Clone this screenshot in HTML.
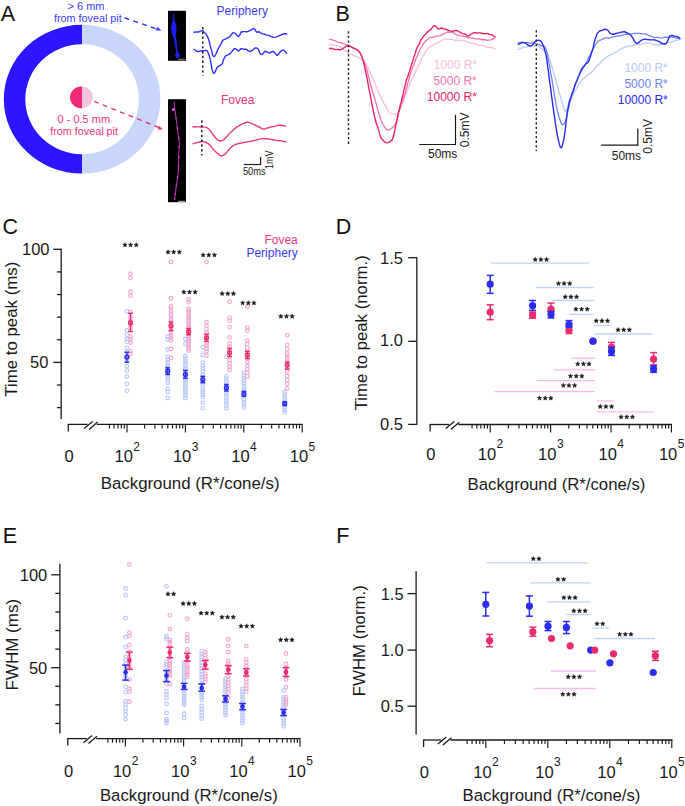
<!DOCTYPE html>
<html><head><meta charset="utf-8"><title>Figure</title>
<style>
html,body{margin:0;padding:0;background:#fff;}
svg{display:block;}
text{font-family:"Liberation Sans", sans-serif;}
</style></head>
<body>
<svg width="685" height="806" viewBox="0 0 685 806">
<rect width="685" height="806" fill="#fff"/>
<text x="0.7" y="20.8" font-size="21.5" fill="#111" text-anchor="start" >A</text>
<path d="M82.1,24.8 A78.3,74.4 0 0 0 82.1,173.6 L82.1,154.2 A56.8,55 0 0 1 82.1,44.2 Z" fill="#2c16ff"/>
<path d="M82.1,24.8 A78.3,74.4 0 0 1 82.1,173.6 L82.1,154.2 A56.8,55 0 0 0 82.1,44.2 Z" fill="#c8d6fc"/>
<clipPath id="fovL"><rect x="60" y="80" width="22.1" height="40"/></clipPath>
<ellipse cx="81.45" cy="97.3" rx="11.45" ry="10.85" fill="#f2c4e0"/>
<ellipse cx="81.45" cy="97.3" rx="11.45" ry="10.85" fill="#ee2a78" clip-path="url(#fovL)"/>
<text x="86" y="9.8" font-size="11" fill="#3c3cf0" text-anchor="middle" >&gt; 6 mm</text>
<text x="87.8" y="22.4" font-size="10.8" fill="#3c3cf0" text-anchor="middle" >from foveal pit</text>
<text x="83.8" y="122.8" font-size="11" fill="#ea3478" text-anchor="middle" >0 - 0.5 mm</text>
<text x="84.1" y="135" font-size="10.8" fill="#ea3478" text-anchor="middle" >from foveal pit</text>
<line x1="124.5" y1="17.8" x2="158.5" y2="29.6" stroke="#3c3cf0" stroke-width="1.5" stroke-dasharray="5,4.3"/>
<polygon points="161.5,30.6 155.6,30.4 157.2,27.0" fill="#3c3cf0"/>
<line x1="94.1" y1="101.3" x2="160.5" y2="128.2" stroke="#ea3478" stroke-width="1.4" stroke-dasharray="5,4.3"/>
<polygon points="163.2,129.6 157.6,129.6 159.2,126.0" fill="#ea3478"/>
<rect x="168" y="10.8" width="18" height="50" fill="#000"/>
<path d="M173.0,13.4 L173.9,13.4 L174.6,21 Q176.6,24 176.5,28.5 Q176.3,33 175.6,35.5 L176.6,41 Q177.2,44 176.9,47 L177.6,51.5 Q179.9,53.5 179.8,56 Q179,58.4 177,58.3 Q175.2,57.8 175.3,55.5 Q175.5,53.5 176.2,51.5 L175.3,47 Q174.4,44 174.2,41 L173.3,36.5 Q171,33.5 171,29 Q171.2,24.5 172.7,21.5 Z" fill="#1e1ef8"/>
<rect x="178.2" y="58.8" width="7" height="1.3" fill="#777"/>
<circle cx="170.3" cy="57.3" r="0.8" fill="#1a1a9a"/>
<rect x="168" y="99.2" width="18" height="103" fill="#000"/>
<path d="M174.4,102 C174.38,102.67 174.17,104.5 174.3,106 C174.43,107.5 174.98,109.45 175.2,111 C175.42,112.55 175.37,113.47 175.6,115.3 C175.83,117.13 176.27,119.38 176.6,122 C176.93,124.62 177.15,127.67 177.6,131 C178.05,134.33 179.08,138.42 179.3,142 C179.52,145.58 179.02,148.78 178.9,152.5 C178.78,156.22 178.73,160.83 178.6,164.3 C178.47,167.77 178.35,170.57 178.1,173.3 C177.85,176.03 177.52,177.73 177.1,180.7 C176.68,183.67 176.02,188 175.6,191.1 C175.18,194.2 174.77,197.93 174.6,199.3" fill="none" stroke="#b52cb5" stroke-width="1.1" stroke-linejoin="round" stroke-linecap="round" />
<circle cx="176.1" cy="118" r="0.75" fill="#f04cf0"/>
<circle cx="177.3" cy="128" r="0.75" fill="#f04cf0"/>
<circle cx="178.8" cy="138" r="0.75" fill="#f04cf0"/>
<circle cx="179.1" cy="147" r="0.75" fill="#f04cf0"/>
<circle cx="178.8" cy="157" r="0.75" fill="#f04cf0"/>
<circle cx="178.5" cy="166" r="0.75" fill="#f04cf0"/>
<circle cx="177.6" cy="177" r="0.75" fill="#f04cf0"/>
<circle cx="176.4" cy="185" r="0.75" fill="#f04cf0"/>
<circle cx="175.2" cy="194" r="0.75" fill="#f04cf0"/>
<circle cx="173.3" cy="109.4" r="1.5" fill="#ee44ee"/>
<circle cx="174.6" cy="199" r="0.9" fill="#dd33dd"/>
<rect x="178.2" y="200.8" width="7" height="1.1" fill="#aaa"/>
<text x="242.3" y="15" font-size="12" fill="#3c3cf0" text-anchor="middle" >Periphery</text>
<text x="237.7" y="103.8" font-size="12" fill="#ea3478" text-anchor="middle" >Fovea</text>
<polyline points="194.1,32.3 195.4,32.07 197.23,32.02 198.9,31.99 200.58,31.16 202.3,30.65 203.26,31.29 204.34,32.55 205.47,33.43 206.55,34.76 207.5,36.71 208.01,37.87 208.47,39.08 208.89,40.4 209.29,41.65 209.67,43.02 210.04,44.84 210.41,46.56 210.8,47.8 211.23,49.38 211.64,50.87 212.03,52.35 212.43,54.23 212.84,55.6 213.3,56.07 213.8,56.45 214.36,56.62 214.96,55.9 215.59,54.74 216.24,53.39 216.92,51.78 217.61,50.08 218.3,48.53 219,47.27 219.71,46.07 220.44,45.03 221.19,43.59 221.94,41.7 222.71,40.36 223.5,39.89 224.67,39.46 225.91,38.82 227.16,38.18 228.34,37.61 229.4,36.97 230.54,35.74 231.56,34.34 232.44,33.22 233.2,32.6 235,33.18 236.07,34.32 237.34,35.78 238.5,36.53 239.43,35.72 240.26,33.78 241.1,32.24 242.34,31.73 243.8,31.66 245.08,31.65 246.53,31.73 248.1,31.49 249.4,30.82 250.8,30.15 252.18,29.25 253.4,28.44 254.75,29.17 255.9,31.16 256.9,32.21 259.1,31.79 260.46,32.89 262.2,33.9 263.39,33.85 264.77,34.26 266.17,34.97 267.4,35.15 269.26,35.56 270.9,36.29 272.54,37.06 274.4,37.42 275.56,37.17 276.83,36.8 278.21,36.12 279.7,35.35 281.1,34.96 282.71,34.24 284.32,33.79 285.72,33.78 286.7,34" fill="none" stroke="#3030f8" stroke-width="1.4" stroke-linejoin="round" stroke-linecap="round" />
<polyline points="194.1,49.4 195.18,50.06 196.71,51.24 198.2,51.53 199.41,51.33 200.57,51.05 201.9,50.7 203.15,50.8 204.54,50.63 205.92,50.29 207.1,50.82 207.74,51.79 208.29,52.98 208.79,54.26 209.24,55.67 209.67,57.41 210.1,59.15 210.38,60.06 210.65,61.28 210.9,62.74 211.15,63.97 211.39,65.61 211.62,67.49 211.85,68.73 212.07,69.48 212.3,70.14 213.18,73 214.2,73.42 214.75,72.48 215.36,71.39 216.03,69.75 216.74,67.88 217.5,66.8 218.58,66.1 219.77,65.52 220.95,64.91 222,64.13 222.56,62.96 223.03,61.06 223.46,59.64 223.89,58.94 224.39,57.89 225,56.46 226.16,55.47 227.51,55.05 228.9,54.45 230.2,53.61 231.14,52.6 232.04,51.44 232.91,50.23 233.76,49.01 234.6,48.52 236,49.01 237.34,50.05 238.5,51.06 239.49,50.26 240.7,48.71 241.94,48.69 243.49,49.14 245.08,49.21 246.4,49.37 248.12,50.65 249.5,51.47 251.03,51.05 252.5,50.29 253.41,49.63 254.28,48.66 255.1,47.85 257.3,48.14 258.02,48.96 258.83,50.62 259.64,52.75 260.4,54.09 261.76,54.48 263,53.76 263.99,52.35 265.2,51.22 266.55,51.61 268.15,52.7 269.6,53.1 271.26,51.92 272.7,51.3 274.06,52.14 275.3,53.2 276.32,54.8 277.5,55.33 278.37,54.21 279.39,53.02 280.44,51.78 281.4,50.56 283.06,50.18 284.5,50.92 285.79,52.07 286.7,53.3" fill="none" stroke="#3030f8" stroke-width="1.4" stroke-linejoin="round" stroke-linecap="round" />
<polyline points="193.1,127 194.07,126.8 195.43,126.65 197.03,126.81 198.73,126.87 200.37,126.76 201.8,126.74 203.3,126.99 204.71,127.18 206.04,127.36 207.3,127.95 208.5,128.79 209.43,129.6 210.29,130.58 211.1,131.71 211.89,132.95 212.68,134.12 213.5,135.22 214.52,136.53 215.54,137.8 216.56,138.9 217.58,139.77 218.6,140.5 220.21,141 221.81,140.78 223.6,139.88 224.47,139.16 225.39,138.08 226.35,136.94 227.34,135.9 228.34,134.74 229.33,133.67 230.3,132.83 231.38,131.78 232.41,130.8 233.44,129.93 234.51,128.9 235.69,127.81 237,126.95 238.12,126.39 239.37,125.69 240.69,124.93 242.05,124.1 243.41,123.39 244.73,122.99 245.98,122.61 247.1,122.29 248.68,122.4 250.1,122.88 251.4,123.44 252.62,123.92 253.8,124.31 255.21,125.05 256.51,125.78 257.73,126.25 258.9,126.8 260.31,127.71 261.61,128.55 263.1,128.97 264.34,128.98 265.63,128.69 267.11,128.06 268.9,127.49 269.98,127.25 271.2,126.92 272.52,126.68 273.89,126.58 275.27,126.19 276.61,125.64 277.87,125.36 279,125.2 280.66,125.14 282.25,125.36 283.67,125.72 284.84,125.97 285.7,126.1" fill="none" stroke="#e83a78" stroke-width="1.4" stroke-linejoin="round" stroke-linecap="round" />
<polyline points="193.1,143.8 194.07,143.34 195.43,142.95 197.03,142.61 198.73,142.23 200.37,141.75 201.8,141.48 203.28,141.57 204.66,141.93 205.97,142.49 207.24,143.11 208.5,143.86 209.52,144.77 210.5,145.83 211.45,146.93 212.4,148.14 213.38,149.42 214.4,150.56 215.5,151.59 216.67,152.69 217.86,153.67 219.02,154.54 220.12,155.36 221.1,155.8 222.66,155.69 223.93,154.9 225.3,153.83 226.22,153.05 227.16,151.87 228.14,150.49 229.18,149.29 230.3,148.13 231.28,147.14 232.28,146.27 233.33,145.56 234.45,145.03 235.67,144.52 237,144.02 238.28,143.63 239.69,143.28 241.18,143.02 242.71,142.69 244.24,142.4 245.72,142.2 247.1,141.88 248.61,141.66 250.06,141.5 251.46,141.09 252.82,140.7 254.17,140.56 255.5,140.41 256.79,139.92 258.03,139.47 259.25,139.19 260.48,138.83 261.75,138.64 263.1,138.58 264.29,138.62 265.49,138.71 266.71,138.8 267.98,138.89 269.32,139.04 270.75,139.37 272.3,139.69 273.53,139.79 274.93,139.94 276.43,140.32 278,140.59 279.58,140.62 281.1,140.84 282.53,141.25 283.81,141.48 284.88,141.48 285.7,141.7" fill="none" stroke="#e83a78" stroke-width="1.4" stroke-linejoin="round" stroke-linecap="round" />
<line x1="202.8" y1="27" x2="202.8" y2="75.5" stroke="#222" stroke-width="1.5" stroke-dasharray="2.4,2.4"/>
<line x1="201.8" y1="120.3" x2="201.8" y2="155.5" stroke="#222" stroke-width="1.5" stroke-dasharray="2.4,2.4"/>
<line x1="243.8" y1="164.5" x2="260.8" y2="164.5" stroke="#222" stroke-width="1.2" />
<line x1="260.6" y1="157" x2="260.6" y2="165" stroke="#222" stroke-width="1.2" />
<text x="242.9" y="174.7" font-size="10.8" fill="#222" text-anchor="start" textLength="22.8" lengthAdjust="spacingAndGlyphs">50ms</text>
<text x="0" y="0" font-size="10.4" fill="#222" text-anchor="start" transform="translate(272.6,169) rotate(-90)" textLength="18.6" lengthAdjust="spacingAndGlyphs">1mV</text>
<text x="335.6" y="20.7" font-size="21.5" fill="#111" text-anchor="start" >B</text>
<polyline points="329.5,44.3 330.39,44.58 331.63,44.93 333.1,44.98 334.64,45.16 336.12,45.52 337.4,45.91 338.93,46.42 340.27,47.02 341.57,48.16 343,49.34 344.07,49.89 345.2,50.46 346.36,51.15 347.53,52.17 348.69,53.17 349.8,53.75 351.08,54.27 352.32,54.85 353.55,55.62 354.77,56.15 356,56.22 357.26,56.71 358.55,57.82 359.82,58.63 361.05,59.02 362.2,59.75 363.08,60.54 363.89,61.14 364.66,61.92 365.42,63.13 366.19,64.51 367,65.78 367.54,66.76 368.06,68.2 368.58,69.38 369.1,70.23 369.63,71.35 370.2,72.73 370.81,74.24 371.47,75.57 372.2,76.83 372.65,77.6 373.12,78.7 373.62,80.11 374.14,81.35 374.67,82.48 375.22,83.84 375.79,85.4 376.36,86.84 376.93,88.21 377.51,89.78 378.08,91.09 378.65,92.23 379.21,93.59 379.75,95.04 380.29,96.23 380.8,97.07 381.47,98.38 382.14,99.96 382.81,101.32 383.47,102.45 384.13,103.88 384.78,105.2 385.41,105.96 386.03,106.66 386.63,107.79 387.21,109.1 387.77,110.24 388.3,111.18 389.7,112.76 390.88,113.35 392.02,113.68 393.3,113.86 394.46,113.98 395.67,114.16 396.93,113.9 398.22,112.66 399.5,110.71 400,109.85 400.51,108.67 401.03,107.51 401.56,106.28 402.09,104.55 402.62,103.19 403.14,102.12 403.67,100.55 404.18,99.02 404.68,97.84 405.17,96.37 405.65,94.71 406.1,93.55 406.65,92.33 407.17,90.92 407.65,89.54 408.12,88.6 408.57,87.56 409.02,86.08 409.48,84.58 409.96,83.14 410.46,82 411,80.89 411.56,79.65 412.12,78.84 412.68,77.65 413.26,76.16 413.86,75.09 414.48,73.91 415.12,72.73 415.81,71.36 416.53,69.72 417.3,68.32 417.81,67.49 418.35,66.28 418.92,64.94 419.5,63.97 420.11,62.95 420.72,61.45 421.35,59.75 421.99,58.2 422.63,56.99 423.26,55.91 423.9,54.91 424.53,53.81 425.15,52.45 425.75,51.26 426.34,50.55 426.9,49.73 428.11,48.17 429.23,47.39 430.31,46.5 431.39,45.72 432.5,45.34 433.69,44.58 435,43.91 436.13,43.63 437.34,43 438.62,42.28 439.94,41.58 441.27,40.76 442.59,39.93 443.87,39.2 445.08,38.9 446.2,39.1 447.66,39.13 448.92,39.12 450.09,39.28 451.29,39.36 452.62,39.53 454.2,40.06 455.44,40.32 456.8,40.18 458.26,40.26 459.78,40.6 461.32,40.91 462.86,40.95 464.36,41 465.78,41.32 467.1,41.8 468.64,42.26 470.08,42.67 471.44,43.11 472.75,43.29 474.05,43.56 475.35,43.95 476.7,44.54 478.09,45.36 479.5,45.62 480.91,45.37 482.31,45.43 483.71,45.94 485.07,46.53 486.4,46.95 488,47.24 489.67,47.36 491.31,47.51 492.81,47.9 494.08,48.35 495,48.9" fill="none" stroke="#f6bedd" stroke-width="1.3" stroke-linejoin="round" stroke-linecap="round" />
<polyline points="329.5,39.4 330.61,39.35 332.23,39.83 334,40.44 335.31,40.73 336.69,41.49 338.2,42.36 339.9,42.77 340.99,42.75 342.15,43.02 343.37,43.5 344.64,44.09 345.95,44.72 347.27,44.98 348.6,45.36 349.82,46.08 351.14,46.7 352.51,47.39 353.88,47.99 355.2,48.52 356.45,49.57 357.56,50.49 358.5,51.07 359.6,52.11 360.34,53.03 360.87,54.03 361.37,55.24 362,56.64 362.45,57.83 362.89,58.95 363.31,59.81 363.76,60.98 364.23,62.49 364.75,63.7 365.33,65.06 366,67.34 366.28,68.17 366.57,68.78 366.88,69.83 367.2,70.93 367.53,72.14 367.87,73.86 368.21,75.41 368.57,76.64 368.93,78.14 369.3,79.39 369.67,80.58 370.05,82.26 370.43,83.91 370.81,85.42 371.19,86.82 371.56,88.02 371.94,89.3 372.31,90.94 372.68,92.54 373.04,93.67 373.4,94.7 373.79,96.06 374.19,97.23 374.6,98.22 375.01,99.48 375.43,100.98 375.85,102.52 376.26,104.12 376.68,105.89 377.09,107.54 377.5,108.84 377.91,110.13 378.31,111.46 378.7,112.63 379.08,113.98 379.45,115.33 379.81,116.21 380.16,117.25 380.49,118.66 380.8,119.58 381.58,121.37 382.26,123 382.87,124.5 383.43,125.54 383.96,126.06 384.48,126.6 385,127.68 386.15,129.39 387.2,129.96 388.3,130.1 389.5,129.8 390.75,128.98 392,128.08 392.91,127.53 393.81,126.75 394.73,125.5 395.7,123.57 396.04,122.83 396.38,121.83 396.73,120.35 397.08,118.97 397.44,117.84 397.8,116.6 398.16,115.04 398.53,113.25 398.9,111.77 399.26,110.31 399.63,109.02 400,108.07 400.44,106.42 400.89,104.88 401.34,103.79 401.79,102.7 402.24,101.67 402.69,100.39 403.14,98.89 403.6,97.78 404.05,96.81 404.5,95.53 404.84,94.49 405.19,93.43 405.53,92.2 405.86,90.6 406.2,89.03 406.54,87.94 406.88,86.99 407.23,85.63 407.57,83.91 407.92,82.51 408.27,81.7 408.63,80.74 409,79.06 409.39,77.13 409.78,75.63 410.16,74.44 410.55,73.2 410.94,71.86 411.33,70.79 411.74,70.11 412.16,68.98 412.61,67.54 413.08,66.36 413.57,65.06 414.1,63.8 414.59,62.81 415.1,61.22 415.65,59.28 416.22,57.89 416.81,56.99 417.41,55.65 418.02,53.79 418.63,52.47 419.24,51.38 419.85,49.84 420.44,48.53 421.02,47.59 421.57,46.9 422.1,45.98 423.07,44.09 423.95,42.89 424.78,42.05 425.61,41.08 426.48,40.25 427.43,39.49 428.5,38.53 429.7,37.69 430.99,37.38 432.35,37.33 433.76,37 435.22,36.45 436.71,36.22 438.2,36.19 439.4,35.94 440.65,35.34 441.94,34.6 443.25,33.84 444.56,33.27 445.85,32.78 447.1,32.19 448.29,32.06 449.4,32.26 450.88,32.11 452.18,31.96 453.39,32.56 454.61,33.6 455.91,34.37 457.4,35.01 458.52,35.26 459.72,35.46 460.99,35.96 462.29,36.24 463.61,36.26 464.94,36.38 466.24,36.65 467.5,37.34 468.7,37.87 470.15,37.91 471.52,38.04 472.84,38.09 474.16,38.32 475.48,38.8 476.85,38.8 478.3,38.7 479.67,39.06 481.14,39.65 482.67,39.74 484.21,39.5 485.72,39.86 487.15,40.31 488.46,40.16 489.6,40.01 491.49,39.7 493.01,39.08 494.17,38.36 495,37.5" fill="none" stroke="#f272b0" stroke-width="1.3" stroke-linejoin="round" stroke-linecap="round" />
<polyline points="329.5,48.5 330.61,48.38 332.23,48.56 334,49.12 335.42,49.6 336.98,49.41 338.52,49.5 339.9,49.87 341.38,49.49 342.66,48.75 344,47.79 345.5,46.74 347.06,45.99 348.6,45.82 350.04,46.17 351.46,46.89 353,47.97 354.07,48.46 355.24,48.79 356.43,49.41 357.54,50 358.5,50.78 359.42,52.17 360.14,53.4 360.79,54.47 361.5,55.89 361.88,56.9 362.24,58.13 362.61,59.15 362.98,60.02 363.36,61.4 363.77,63.02 364.21,64.74 364.7,67.16 364.92,68.38 365.15,69.34 365.39,70.5 365.64,71.56 365.89,72.48 366.15,73.99 366.41,75.64 366.68,76.73 366.96,77.73 367.23,78.92 367.51,80.27 367.79,82.05 368.07,84.04 368.35,85.69 368.62,87.2 368.9,88.6 369.17,89.84 369.44,91.13 369.7,92.19 369.96,93.46 370.21,95.18 370.47,96.73 370.72,97.89 370.96,98.96 371.21,100.2 371.46,101.61 371.7,103.29 371.95,104.55 372.2,105.57 372.45,106.86 372.7,107.75 372.96,108.93 373.22,110.55 373.48,111.82 373.75,113.15 374.03,114.32 374.31,115.37 374.6,116.71 374.96,118.08 375.33,119.39 375.72,120.99 376.13,122.73 376.54,124.12 376.96,125.03 377.38,126.12 377.81,127.6 378.23,128.94 378.64,129.98 379.04,131.38 379.43,133.07 379.8,134.49 380.16,135.7 380.49,136.7 380.8,137.2 381.82,138.94 382.6,139.81 383.28,140.55 384,141.39 385.51,142.61 387,142.89 388.48,142.64 390,141.66 390.77,140.9 391.53,140.46 392.36,139.69 393.3,137.06 393.55,135.67 393.81,134.64 394.08,133.65 394.37,132.03 394.66,130.66 394.96,129.7 395.26,128.29 395.56,126.43 395.87,124.74 396.18,123.57 396.49,122.51 396.79,121.23 397.09,120.02 397.38,118.76 397.66,117.08 397.94,115.12 398.2,113.59 398.55,112.16 398.89,110.97 399.22,109.57 399.54,108.18 399.85,107.03 400.16,105.71 400.46,104.47 400.76,103.55 401.06,102.64 401.37,101.24 401.68,99.56 402,98.15 402.3,97.24 402.6,96.34 402.89,95.3 403.19,94.19 403.48,92.65 403.78,90.74 404.08,89.36 404.39,88.58 404.7,87.46 405.01,86.07 405.33,84.83 405.66,83.34 406,81.68 406.37,80.07 406.75,78.88 407.13,78.24 407.51,77.52 407.9,76.22 408.3,74.69 408.71,73.55 409.12,72.58 409.55,71.22 409.99,69.57 410.44,67.99 410.9,66.43 411.28,64.98 411.68,63.81 412.08,63.1 412.5,62.07 412.92,60.38 413.35,58.64 413.79,57.19 414.23,56.02 414.67,54.85 415.11,53.58 415.55,52.2 416,50.52 416.44,49.19 416.87,48.26 417.3,47.39 418.01,46.1 418.72,44.82 419.43,43.38 420.14,41.59 420.86,39.97 421.57,39.06 422.28,38.19 422.99,37.01 423.7,35.99 424.63,35.18 425.58,34.11 426.54,32.76 427.49,31.88 428.41,31.1 429.29,30.49 430.1,30.17 431.38,28.91 432.53,27.19 433.58,26.01 434.6,25.7 435.82,26.13 436.94,27.66 438.2,28.96 439.65,28.56 441.24,28.03 443,28.5 444.15,28.95 445.37,29.13 446.65,29.68 447.99,30.29 449.4,30.66 450.66,31.18 452,31.47 453.39,30.96 454.79,30.57 456.13,30.51 457.4,30.7 458.82,31.49 460.19,32.41 461.49,33.06 462.73,33.58 463.9,33.82 465.26,34.02 466.51,35 467.65,35.96 468.7,35.82 469.71,35.19 470.54,34.34 471.9,33.5 472.94,33.17 474.15,32.69 475.49,32.76 476.93,32.98 478.41,32.85 479.9,32.86 481.23,33.02 482.67,33.46 484.16,33.78 485.65,33.66 487.09,33.46 488.43,33.77 489.6,34.39 491.38,34.71 492.91,35.33 494.13,36.45 495,36.5" fill="none" stroke="#ee2266" stroke-width="1.4" stroke-linejoin="round" stroke-linecap="round" />
<line x1="348.5" y1="31.2" x2="348.5" y2="144.7" stroke="#222" stroke-width="1.4" stroke-dasharray="2.3,2.3"/>
<text x="477" y="69" font-size="12" fill="#f6bedd" text-anchor="end" >1000 R*</text>
<text x="476.8" y="84.7" font-size="12" fill="#f272b0" text-anchor="end" >5000 R*</text>
<text x="476.9" y="100.8" font-size="12" fill="#ee2266" text-anchor="end" >10000 R*</text>
<line x1="419.2" y1="144.5" x2="456" y2="144.5" stroke="#1a1a1a" stroke-width="1.2" />
<line x1="455.5" y1="114.8" x2="455.5" y2="145" stroke="#1a1a1a" stroke-width="1.2" />
<text x="442.7" y="158" font-size="12" fill="#1a1a1a" text-anchor="middle" >50ms</text>
<text x="0" y="0" font-size="12" fill="#1a1a1a" text-anchor="middle" transform="translate(468.5,129.9) rotate(-90)">0.5mV</text>
<polyline points="518.2,49.4 519.24,49.24 520.73,48.68 522.4,47.72 524,47.09 525.44,47.14 526.86,47.2 528.35,46.6 530,45.98 531.27,45.69 532.66,45.46 534.12,45.55 535.56,45.53 536.91,45.05 538.1,45.26 539.28,46.45 540.27,47.61 541.16,48.32 542.05,48.86 543,49.96 543.85,51.02 544.7,51.55 545.56,51.99 546.44,52.48 547.35,53.45 548.3,55.58 548.67,56.92 549.05,57.99 549.43,58.84 549.82,59.83 550.22,61 550.62,62.25 551.02,63.71 551.43,65.09 551.84,66.24 552.25,67.85 552.66,69.67 553.07,70.9 553.48,72.07 553.89,73.8 554.3,75.15 554.7,75.98 555.06,77 555.43,78.21 555.81,79.77 556.2,81.6 556.59,83.09 556.98,84.34 557.37,85.3 557.76,86.68 558.15,88.71 558.53,90.46 558.9,91.82 559.26,92.92 559.61,94.04 559.95,95.12 560.26,96.01 560.56,97.14 560.84,98.12 561.1,98.93 561.74,101.3 562.23,102.98 562.61,104.19 562.92,105.1 563.2,105.86 563.5,106.85 564.01,108.97 564.42,110.65 564.9,111.39 565.91,110.63 567,108.83 567.94,107.56 569.1,105.5 569.49,104.2 569.92,102.82 570.37,101.88 570.86,100.69 571.36,99.16 571.89,97.67 572.44,96.38 573,95.27 573.58,93.87 574.19,92.43 574.83,91.34 575.48,90.41 576.15,89.21 576.83,87.65 577.51,86.31 578.2,85.1 578.99,83.69 579.78,82.81 580.58,82.21 581.4,81.02 582.24,79.76 583.1,78.98 584,78.24 585.11,77.27 586.28,76.02 587.49,74.89 588.7,74.35 589.88,73.66 591,72.65 592.05,71.73 593.04,70.58 594.01,69.14 594.98,67.94 595.97,66.95 597,65.87 597.89,65.02 598.77,64.44 599.64,63.74 600.56,62.54 601.53,61.21 602.61,60.23 603.8,59.53 604.72,58.9 605.72,57.87 606.77,56.98 607.86,56.37 608.99,55.57 610.14,54.79 611.29,54.5 612.45,54.13 613.59,53.35 614.7,52.74 615.92,52.18 617.14,51.55 618.36,50.74 619.59,49.82 620.81,48.96 622.04,48.31 623.26,47.94 624.48,47.38 625.7,46.99 627.07,46.72 628.43,46.05 629.79,45.75 631.15,45.95 632.51,45.66 633.87,44.99 635.23,44.7 636.6,44.6 637.98,44.52 639.39,44.49 640.8,44.02 642.21,43.57 643.61,43.46 644.98,43.35 646.32,43.26 647.6,43.34 649,43.46 650.34,43.43 651.63,43.79 652.9,44.65 654.16,44.9 655.42,44.71 656.7,44.99 657.96,45.42 659.15,45.2 660.34,44.29 661.55,43.76 662.84,43.73 664.24,43.68 665.8,43.61 666.95,43.27 668.25,42.56 669.67,42.14 671.15,42.05 672.67,41.7 674.16,40.96 675.6,40.35 676.94,40.05 678.13,39.82 679.13,39.65 679.9,39.6" fill="none" stroke="#bccaf8" stroke-width="1.3" stroke-linejoin="round" stroke-linecap="round" />
<polyline points="518.2,43 519.12,42.82 520.42,42.38 521.94,42.26 523.52,42.55 525,42.79 526.4,42.61 527.83,42.63 529.26,43.06 530.65,43.17 532,42.97 533.64,42.95 535.24,43.45 536.75,44.02 538.1,44.18 539.57,44.75 540.79,45.44 542,46.04 543.23,46.12 544.44,46.22 545.8,48.65 546.03,49.06 546.26,49.37 546.49,50.12 546.74,51.33 546.98,52.43 547.23,53.72 547.49,55.18 547.75,56.46 548.01,58.06 548.27,59.45 548.53,60.57 548.8,62.11 549.06,63.4 549.33,64.52 549.59,65.85 549.86,67.39 550.12,69.13 550.38,70.88 550.64,72.65 550.9,73.93 551.12,74.69 551.35,75.94 551.58,77.31 551.81,78.53 552.04,79.91 552.27,81.54 552.5,83.19 552.74,84.43 552.97,85.61 553.2,87.16 553.43,88.89 553.67,90.39 553.89,91.8 554.12,93.26 554.34,94.63 554.57,96.14 554.78,97.42 555,98.57 555.21,99.95 555.41,101.14 555.61,102.26 555.81,103.45 556,104.42 556.42,106.21 556.81,107.97 557.19,110.07 557.54,111.73 557.89,112.81 558.22,113.79 558.54,114.94 558.86,116.27 559.18,117.18 559.5,117.98 560.12,120.29 560.72,122.13 561.29,123.37 561.85,124.49 562.4,124.86 563.72,124.21 565,121.98 565.35,121.14 565.69,120.21 566.03,118.89 566.36,117.33 566.72,116.2 567.09,114.94 567.5,113.14 567.77,112.05 568.03,110.99 568.29,109.58 568.55,108.2 568.83,107.06 569.12,105.67 569.43,103.8 569.77,102.27 570.14,101.18 570.55,99.64 571,98.02 571.34,97.26 571.7,96.18 572.09,94.85 572.49,93.75 572.91,92.47 573.35,90.84 573.79,89 574.25,87.52 574.71,86.63 575.18,85.47 575.66,83.93 576.13,82.63 576.61,81.38 577.08,80.14 577.54,79.17 578,78.08 578.62,76.4 579.26,74.95 579.91,73.82 580.57,72.74 581.24,71.55 581.91,70.21 582.56,68.97 583.2,67.91 583.82,67.02 584.42,66.03 584.98,64.71 585.5,63.68 586.28,62.36 586.95,61.07 587.53,59.82 588.09,58.46 588.66,57.25 589.28,56.45 590,55.5 590.57,54.36 591.16,52.81 591.78,51.17 592.42,49.64 593.07,48.38 593.75,47.46 594.43,46.41 595.12,45.18 595.81,44.29 596.5,43.33 597.65,41.84 598.81,41.03 599.99,40.47 601.2,39.69 602.47,39.15 603.8,38.62 605.02,37.95 606.33,37.83 607.68,38.11 609.05,38.02 610.39,37.77 611.69,37.37 612.9,36.82 614.44,36.7 615.86,36.48 617.23,35.9 618.59,35.82 620,35.79 621.45,35.37 622.89,34.92 624.37,34.53 625.89,34.26 627.5,33.99 628.7,33.79 629.93,33.78 631.19,33.88 632.48,33.72 633.81,33.42 635.19,33.31 636.6,33.34 637.88,33.41 639.22,33.38 640.59,33.61 641.99,33.91 643.4,33.9 644.81,33.88 646.22,34.32 647.6,34.86 648.97,35.26 650.33,35.81 651.69,36.43 653.05,37.07 654.41,37.53 655.77,37.61 657.13,37.43 658.5,37.41 659.87,37.81 661.26,38.16 662.64,37.93 664.03,37.21 665.41,37 666.79,37.37 668.15,37.29 669.5,37.08 670.9,37.05 672.39,37.03 673.9,37.42 675.39,37.94 676.79,38.05 678.05,37.94 679.1,38.17 679.9,38.7" fill="none" stroke="#6e84f6" stroke-width="1.3" stroke-linejoin="round" stroke-linecap="round" />
<polyline points="518.2,44.3 519.89,43.52 522,42.62 523.72,42.55 525.3,43.02 526.62,43.95 528,45.15 529.81,46.12 531.7,45.74 532.84,44.48 533.93,43.01 535,41.49 536.58,40.51 538.1,40.32 539.61,40.42 541,41.38 541.76,42.5 542.45,43.89 543.2,45.69 543.57,46.47 543.97,47.63 544.38,49 544.8,50.37 545.22,51.81 545.62,53.3 546,54.77 546.2,55.65 546.38,57.01 546.54,58.24 546.7,58.92 546.85,59.73 547.01,60.83 547.17,61.95 547.34,63.49 547.54,65.36 547.76,67.19 548.01,68.98 548.3,70.7 548.43,71.25 548.57,72.31 548.72,73.65 548.87,75 549.03,76.35 549.19,77.73 549.36,79.28 549.54,80.72 549.72,82.1 549.9,83.49 550.08,84.68 550.27,85.85 550.46,87.01 550.65,88.54 550.85,90.47 551.04,91.81 551.23,93.15 551.43,95.08 551.62,96.63 551.81,97.85 552,98.95 552.19,100.39 552.38,102.07 552.56,103.12 552.74,104.54 552.91,106.1 553.08,106.96 553.24,108.07 553.4,109.25 553.64,111.02 553.87,112.97 554.1,114.21 554.33,115.37 554.56,116.95 554.78,118.59 555,120.62 555.21,122.6 555.43,123.7 555.64,124.55 555.84,125.9 556.04,127.21 556.24,128.35 556.43,129.46 556.61,130.44 556.79,131.62 556.97,132.8 557.14,133.94 557.3,135.03 557.71,137.21 558.08,139.01 558.41,140 558.71,140.92 558.99,142.33 559.25,143.41 559.5,144.29 559.99,146.17 560.37,147.3 560.8,147.73 561.58,147.51 562.5,145.33 562.73,144.31 562.97,142.61 563.21,141.39 563.47,140.93 563.73,139.88 564.01,138.14 564.29,136.45 564.59,134.53 564.9,132.3 565.05,131.32 565.2,130.08 565.35,128.51 565.5,127.45 565.65,126.46 565.8,124.94 565.96,123.4 566.11,121.9 566.27,120.58 566.44,119.5 566.61,118.38 566.78,116.93 566.96,114.97 567.15,113.09 567.35,111.55 567.55,110.08 567.76,108.99 567.97,108.19 568.2,107.02 568.52,105.13 568.85,103.41 569.18,101.97 569.53,100.86 569.89,99.83 570.26,98.83 570.64,97.97 571.04,96.66 571.45,95.13 571.87,93.71 572.3,92.49 572.75,91.75 573.22,90.64 573.7,89.1 574.14,87.82 574.61,86.23 575.11,84.62 575.62,83.22 576.15,82 576.7,81 577.25,79.88 577.8,78.28 578.35,76.65 578.9,75.52 579.45,74.22 579.98,72.8 580.49,71.67 580.99,70.46 581.46,69.3 581.9,68.62 583.02,67.09 584.07,66 585.05,64.88 585.94,63.85 586.73,63.48 587.4,63 588.42,61.94 589.2,60.1 589.57,58.74 589.99,57.83 590.45,56.53 590.94,54.58 591.43,53.31 591.91,52.03 592.38,50.32 592.8,49.15 593.18,47.85 593.54,45.82 593.87,43.88 594.2,42.67 594.53,41.7 594.86,40.2 595.22,38.69 595.6,37.86 596.21,36.44 596.8,34.42 597.46,33.03 598.23,32.43 599.2,31.38 600.48,30.69 602.03,30.4 603.66,29.52 605.21,29.21 606.5,29.65 607.97,30.3 609.04,31.81 610.2,33.36 611.57,33.95 613.03,34.28 614.7,34.04 615.86,33.46 617.12,33.13 618.45,32.95 619.79,32.62 621.1,32.23 622.72,31.88 624.36,31.76 625.96,32.26 627.5,33.03 628.48,33.65 629.43,34.26 630.36,34.82 631.27,35.86 632.15,37.08 633,38.44 634.19,40.65 635.31,42.42 636.41,43.33 637.6,43.27 638.87,42.39 640.19,41.19 641.56,40.16 643,39.67 644.51,39.19 646.08,39.21 647.71,39.64 649.4,39.73 650.83,39.87 652.34,39.9 653.87,39.82 655.34,40.06 656.7,40.65 658.24,41.18 659.67,41.9 660.99,43 662.2,43.55 664.19,44.02 666,43.54 666.63,42.78 667.24,41.56 667.86,40.34 668.51,38.61 669.22,36.91 670,35.97 671.41,35.36 673.01,35.55 674.6,36.09 676,36.35 677.6,36.78 678.97,37.61 679.9,38.5" fill="none" stroke="#2a2aee" stroke-width="1.4" stroke-linejoin="round" stroke-linecap="round" />
<line x1="536.3" y1="30.2" x2="536.3" y2="151" stroke="#222" stroke-width="1.4" stroke-dasharray="2.3,2.3"/>
<text x="667.8" y="71.9" font-size="12" fill="#bccaf8" text-anchor="end" >1000 R*</text>
<text x="667.8" y="88.2" font-size="12" fill="#6e84f6" text-anchor="end" >5000 R*</text>
<text x="667.8" y="104.4" font-size="12" fill="#2a2aee" text-anchor="end" >10000 R*</text>
<line x1="601.1" y1="145.1" x2="638.3" y2="145.1" stroke="#1a1a1a" stroke-width="1.2" />
<line x1="637.8" y1="128.4" x2="637.8" y2="145.6" stroke="#1a1a1a" stroke-width="1.2" />
<text x="626.4" y="160.1" font-size="12" fill="#1a1a1a" text-anchor="middle" >50ms</text>
<text x="0" y="0" font-size="12" fill="#1a1a1a" text-anchor="middle" transform="translate(652,136.4) rotate(-90)">0.5mV</text>
<text x="2.5" y="234.3" font-size="21.5" fill="#111" text-anchor="start" >C</text>
<line x1="61.2" y1="248.7" x2="61.2" y2="419" stroke="#1a1a1a" stroke-width="1.3" />
<line x1="53.3" y1="249.3" x2="61.2" y2="249.3" stroke="#1a1a1a" stroke-width="1.3" />
<line x1="53.3" y1="362.4" x2="61.2" y2="362.4" stroke="#1a1a1a" stroke-width="1.3" />
<line x1="56.9" y1="271.92" x2="61.2" y2="271.92" stroke="#1a1a1a" stroke-width="1.3" />
<line x1="56.9" y1="294.54" x2="61.2" y2="294.54" stroke="#1a1a1a" stroke-width="1.3" />
<line x1="56.9" y1="317.16" x2="61.2" y2="317.16" stroke="#1a1a1a" stroke-width="1.3" />
<line x1="56.9" y1="339.78" x2="61.2" y2="339.78" stroke="#1a1a1a" stroke-width="1.3" />
<line x1="56.9" y1="385.02" x2="61.2" y2="385.02" stroke="#1a1a1a" stroke-width="1.3" />
<line x1="56.9" y1="407.64" x2="61.2" y2="407.64" stroke="#1a1a1a" stroke-width="1.3" />
<text x="49.5" y="255.3" font-size="16.5" fill="#1a1a1a" text-anchor="end" >100</text>
<text x="48.4" y="368.4" font-size="16.5" fill="#1a1a1a" text-anchor="end" >50</text>
<text x="0" y="0" font-size="16.85" fill="#1a1a1a" text-anchor="middle" transform="translate(17.2,329.2) rotate(-90)">Time to peak (ms)</text>
<line x1="68.3" y1="424.4" x2="87.4" y2="424.4" stroke="#1a1a1a" stroke-width="1.3" />
<line x1="96.7" y1="424.4" x2="302.7" y2="424.4" stroke="#1a1a1a" stroke-width="1.3" />
<line x1="68.3" y1="423.9" x2="68.3" y2="431.4" stroke="#1a1a1a" stroke-width="1.3" />
<line x1="84.1" y1="428.5" x2="92.6" y2="421.4" stroke="#1a1a1a" stroke-width="1.3" />
<line x1="89.1" y1="429.4" x2="97.6" y2="422.1" stroke="#1a1a1a" stroke-width="1.3" />
<line x1="109.42" y1="424.4" x2="109.42" y2="428.5" stroke="#1a1a1a" stroke-width="1.15" />
<line x1="114.04" y1="424.4" x2="114.04" y2="428.5" stroke="#1a1a1a" stroke-width="1.15" />
<line x1="117.95" y1="424.4" x2="117.95" y2="428.5" stroke="#1a1a1a" stroke-width="1.15" />
<line x1="121.34" y1="424.4" x2="121.34" y2="428.5" stroke="#1a1a1a" stroke-width="1.15" />
<line x1="124.33" y1="424.4" x2="124.33" y2="428.5" stroke="#1a1a1a" stroke-width="1.15" />
<line x1="144.58" y1="424.4" x2="144.58" y2="428.5" stroke="#1a1a1a" stroke-width="1.15" />
<line x1="154.86" y1="424.4" x2="154.86" y2="428.5" stroke="#1a1a1a" stroke-width="1.15" />
<line x1="162.16" y1="424.4" x2="162.16" y2="428.5" stroke="#1a1a1a" stroke-width="1.15" />
<line x1="167.82" y1="424.4" x2="167.82" y2="428.5" stroke="#1a1a1a" stroke-width="1.15" />
<line x1="172.44" y1="424.4" x2="172.44" y2="428.5" stroke="#1a1a1a" stroke-width="1.15" />
<line x1="176.35" y1="424.4" x2="176.35" y2="428.5" stroke="#1a1a1a" stroke-width="1.15" />
<line x1="179.74" y1="424.4" x2="179.74" y2="428.5" stroke="#1a1a1a" stroke-width="1.15" />
<line x1="182.73" y1="424.4" x2="182.73" y2="428.5" stroke="#1a1a1a" stroke-width="1.15" />
<line x1="202.98" y1="424.4" x2="202.98" y2="428.5" stroke="#1a1a1a" stroke-width="1.15" />
<line x1="213.26" y1="424.4" x2="213.26" y2="428.5" stroke="#1a1a1a" stroke-width="1.15" />
<line x1="220.56" y1="424.4" x2="220.56" y2="428.5" stroke="#1a1a1a" stroke-width="1.15" />
<line x1="226.22" y1="424.4" x2="226.22" y2="428.5" stroke="#1a1a1a" stroke-width="1.15" />
<line x1="230.84" y1="424.4" x2="230.84" y2="428.5" stroke="#1a1a1a" stroke-width="1.15" />
<line x1="234.75" y1="424.4" x2="234.75" y2="428.5" stroke="#1a1a1a" stroke-width="1.15" />
<line x1="238.14" y1="424.4" x2="238.14" y2="428.5" stroke="#1a1a1a" stroke-width="1.15" />
<line x1="241.13" y1="424.4" x2="241.13" y2="428.5" stroke="#1a1a1a" stroke-width="1.15" />
<line x1="261.38" y1="424.4" x2="261.38" y2="428.5" stroke="#1a1a1a" stroke-width="1.15" />
<line x1="271.66" y1="424.4" x2="271.66" y2="428.5" stroke="#1a1a1a" stroke-width="1.15" />
<line x1="278.96" y1="424.4" x2="278.96" y2="428.5" stroke="#1a1a1a" stroke-width="1.15" />
<line x1="284.62" y1="424.4" x2="284.62" y2="428.5" stroke="#1a1a1a" stroke-width="1.15" />
<line x1="289.24" y1="424.4" x2="289.24" y2="428.5" stroke="#1a1a1a" stroke-width="1.15" />
<line x1="293.15" y1="424.4" x2="293.15" y2="428.5" stroke="#1a1a1a" stroke-width="1.15" />
<line x1="296.54" y1="424.4" x2="296.54" y2="428.5" stroke="#1a1a1a" stroke-width="1.15" />
<line x1="299.53" y1="424.4" x2="299.53" y2="428.5" stroke="#1a1a1a" stroke-width="1.15" />
<line x1="127" y1="424.4" x2="127" y2="432.4" stroke="#1a1a1a" stroke-width="1.15" />
<line x1="185.4" y1="424.4" x2="185.4" y2="432.4" stroke="#1a1a1a" stroke-width="1.15" />
<line x1="243.8" y1="424.4" x2="243.8" y2="432.4" stroke="#1a1a1a" stroke-width="1.15" />
<line x1="302.2" y1="424.4" x2="302.2" y2="432.4" stroke="#1a1a1a" stroke-width="1.15" />
<text x="69.1" y="462" font-size="16.5" fill="#1a1a1a" text-anchor="middle" >0</text>
<text x="123.7" y="462" font-size="16.5" fill="#1a1a1a" text-anchor="middle" >10</text>
<text x="133.3" y="450.8" font-size="12" fill="#1a1a1a" text-anchor="start" >2</text>
<text x="182.1" y="462" font-size="16.5" fill="#1a1a1a" text-anchor="middle" >10</text>
<text x="191.7" y="450.8" font-size="12" fill="#1a1a1a" text-anchor="start" >3</text>
<text x="240.5" y="462" font-size="16.5" fill="#1a1a1a" text-anchor="middle" >10</text>
<text x="250.1" y="450.8" font-size="12" fill="#1a1a1a" text-anchor="start" >4</text>
<text x="298.9" y="462" font-size="16.5" fill="#1a1a1a" text-anchor="middle" >10</text>
<text x="308.5" y="450.8" font-size="12" fill="#1a1a1a" text-anchor="start" >5</text>
<text x="100.7" y="488.7" font-size="16.85" fill="#1a1a1a" text-anchor="start" >Background (R*/cone/s)</text>
<text x="297.8" y="244" font-size="12" fill="#ee3a80" text-anchor="end" >Fovea</text>
<text x="297.8" y="257.3" font-size="12" fill="#3c3cf0" text-anchor="end" >Periphery</text>
<circle cx="126.9" cy="311.3" r="1.8" fill="none" stroke="#b9c9f9" stroke-width="1.2"/>
<circle cx="126.9" cy="330.4" r="1.8" fill="none" stroke="#b9c9f9" stroke-width="1.2"/>
<circle cx="126.9" cy="334.8" r="1.8" fill="none" stroke="#b9c9f9" stroke-width="1.2"/>
<circle cx="126.9" cy="339.1" r="1.8" fill="none" stroke="#b9c9f9" stroke-width="1.2"/>
<circle cx="126.9" cy="341.7" r="1.8" fill="none" stroke="#b9c9f9" stroke-width="1.2"/>
<circle cx="126.9" cy="347.8" r="1.8" fill="none" stroke="#b9c9f9" stroke-width="1.2"/>
<circle cx="126.9" cy="352" r="1.8" fill="none" stroke="#b9c9f9" stroke-width="1.2"/>
<circle cx="126.9" cy="357" r="1.8" fill="none" stroke="#b9c9f9" stroke-width="1.2"/>
<circle cx="126.9" cy="360.9" r="1.8" fill="none" stroke="#b9c9f9" stroke-width="1.2"/>
<circle cx="126.9" cy="366.1" r="1.8" fill="none" stroke="#b9c9f9" stroke-width="1.2"/>
<circle cx="126.9" cy="370.4" r="1.8" fill="none" stroke="#b9c9f9" stroke-width="1.2"/>
<circle cx="126.9" cy="376.5" r="1.8" fill="none" stroke="#b9c9f9" stroke-width="1.2"/>
<circle cx="126.9" cy="383.8" r="1.8" fill="none" stroke="#b9c9f9" stroke-width="1.2"/>
<circle cx="126.9" cy="390.8" r="1.8" fill="none" stroke="#b9c9f9" stroke-width="1.2"/>
<circle cx="130.5" cy="273.6" r="1.8" fill="none" stroke="#f1a9d2" stroke-width="1.2"/>
<circle cx="130.5" cy="277.7" r="1.8" fill="none" stroke="#f1a9d2" stroke-width="1.2"/>
<circle cx="130.5" cy="291.7" r="1.8" fill="none" stroke="#f1a9d2" stroke-width="1.2"/>
<circle cx="130.5" cy="295.7" r="1.8" fill="none" stroke="#f1a9d2" stroke-width="1.2"/>
<circle cx="130.5" cy="312.2" r="1.8" fill="none" stroke="#f1a9d2" stroke-width="1.2"/>
<circle cx="130.5" cy="317.4" r="1.8" fill="none" stroke="#f1a9d2" stroke-width="1.2"/>
<circle cx="130.5" cy="321" r="1.8" fill="none" stroke="#f1a9d2" stroke-width="1.2"/>
<circle cx="130.5" cy="325" r="1.8" fill="none" stroke="#f1a9d2" stroke-width="1.2"/>
<circle cx="130.5" cy="328" r="1.8" fill="none" stroke="#f1a9d2" stroke-width="1.2"/>
<circle cx="130.5" cy="336.5" r="1.8" fill="none" stroke="#f1a9d2" stroke-width="1.2"/>
<circle cx="130.5" cy="339.1" r="1.8" fill="none" stroke="#f1a9d2" stroke-width="1.2"/>
<circle cx="130.5" cy="342.6" r="1.8" fill="none" stroke="#f1a9d2" stroke-width="1.2"/>
<circle cx="130.5" cy="351.3" r="1.8" fill="none" stroke="#f1a9d2" stroke-width="1.2"/>
<circle cx="130.5" cy="353.9" r="1.8" fill="none" stroke="#f1a9d2" stroke-width="1.2"/>
<circle cx="167.7" cy="336.4" r="1.8" fill="none" stroke="#b9c9f9" stroke-width="1.2"/>
<circle cx="167.7" cy="339.5" r="1.8" fill="none" stroke="#b9c9f9" stroke-width="1.2"/>
<circle cx="167.7" cy="349.6" r="1.8" fill="none" stroke="#b9c9f9" stroke-width="1.2"/>
<circle cx="167.7" cy="357" r="1.8" fill="none" stroke="#b9c9f9" stroke-width="1.2"/>
<circle cx="167.7" cy="359.6" r="1.8" fill="none" stroke="#b9c9f9" stroke-width="1.2"/>
<circle cx="167.7" cy="362.2" r="1.8" fill="none" stroke="#b9c9f9" stroke-width="1.2"/>
<circle cx="167.7" cy="364.9" r="1.8" fill="none" stroke="#b9c9f9" stroke-width="1.2"/>
<circle cx="167.7" cy="367.5" r="1.8" fill="none" stroke="#b9c9f9" stroke-width="1.2"/>
<circle cx="167.7" cy="370" r="1.8" fill="none" stroke="#b9c9f9" stroke-width="1.2"/>
<circle cx="167.7" cy="372.5" r="1.8" fill="none" stroke="#b9c9f9" stroke-width="1.2"/>
<circle cx="167.7" cy="374.9" r="1.8" fill="none" stroke="#b9c9f9" stroke-width="1.2"/>
<circle cx="167.7" cy="377.5" r="1.8" fill="none" stroke="#b9c9f9" stroke-width="1.2"/>
<circle cx="167.7" cy="380.2" r="1.8" fill="none" stroke="#b9c9f9" stroke-width="1.2"/>
<circle cx="167.7" cy="382.8" r="1.8" fill="none" stroke="#b9c9f9" stroke-width="1.2"/>
<circle cx="167.7" cy="388.6" r="1.8" fill="none" stroke="#b9c9f9" stroke-width="1.2"/>
<circle cx="167.7" cy="391.8" r="1.8" fill="none" stroke="#b9c9f9" stroke-width="1.2"/>
<circle cx="167.7" cy="397.9" r="1.8" fill="none" stroke="#b9c9f9" stroke-width="1.2"/>
<circle cx="171" cy="261.8" r="1.8" fill="none" stroke="#f1a9d2" stroke-width="1.2"/>
<circle cx="171" cy="298.4" r="1.8" fill="none" stroke="#f1a9d2" stroke-width="1.2"/>
<circle cx="171" cy="306.5" r="1.8" fill="none" stroke="#f1a9d2" stroke-width="1.2"/>
<circle cx="171" cy="309.1" r="1.8" fill="none" stroke="#f1a9d2" stroke-width="1.2"/>
<circle cx="171" cy="311.8" r="1.8" fill="none" stroke="#f1a9d2" stroke-width="1.2"/>
<circle cx="171" cy="314.4" r="1.8" fill="none" stroke="#f1a9d2" stroke-width="1.2"/>
<circle cx="171" cy="317" r="1.8" fill="none" stroke="#f1a9d2" stroke-width="1.2"/>
<circle cx="171" cy="319.5" r="1.8" fill="none" stroke="#f1a9d2" stroke-width="1.2"/>
<circle cx="171" cy="322" r="1.8" fill="none" stroke="#f1a9d2" stroke-width="1.2"/>
<circle cx="171" cy="325" r="1.8" fill="none" stroke="#f1a9d2" stroke-width="1.2"/>
<circle cx="171" cy="328" r="1.8" fill="none" stroke="#f1a9d2" stroke-width="1.2"/>
<circle cx="171" cy="330" r="1.8" fill="none" stroke="#f1a9d2" stroke-width="1.2"/>
<circle cx="171" cy="332.7" r="1.8" fill="none" stroke="#f1a9d2" stroke-width="1.2"/>
<circle cx="171" cy="335.3" r="1.8" fill="none" stroke="#f1a9d2" stroke-width="1.2"/>
<circle cx="171" cy="337.9" r="1.8" fill="none" stroke="#f1a9d2" stroke-width="1.2"/>
<circle cx="171" cy="340" r="1.8" fill="none" stroke="#f1a9d2" stroke-width="1.2"/>
<circle cx="171" cy="349" r="1.8" fill="none" stroke="#f1a9d2" stroke-width="1.2"/>
<circle cx="171" cy="358" r="1.8" fill="none" stroke="#f1a9d2" stroke-width="1.2"/>
<circle cx="185.4" cy="339" r="1.8" fill="none" stroke="#b9c9f9" stroke-width="1.2"/>
<circle cx="185.4" cy="343.7" r="1.8" fill="none" stroke="#b9c9f9" stroke-width="1.2"/>
<circle cx="185.4" cy="355.9" r="1.8" fill="none" stroke="#b9c9f9" stroke-width="1.2"/>
<circle cx="185.4" cy="358.38" r="1.8" fill="none" stroke="#b9c9f9" stroke-width="1.2"/>
<circle cx="185.4" cy="360.86" r="1.8" fill="none" stroke="#b9c9f9" stroke-width="1.2"/>
<circle cx="185.4" cy="363.35" r="1.8" fill="none" stroke="#b9c9f9" stroke-width="1.2"/>
<circle cx="185.4" cy="365.83" r="1.8" fill="none" stroke="#b9c9f9" stroke-width="1.2"/>
<circle cx="185.4" cy="368.31" r="1.8" fill="none" stroke="#b9c9f9" stroke-width="1.2"/>
<circle cx="185.4" cy="370.79" r="1.8" fill="none" stroke="#b9c9f9" stroke-width="1.2"/>
<circle cx="185.4" cy="373.28" r="1.8" fill="none" stroke="#b9c9f9" stroke-width="1.2"/>
<circle cx="185.4" cy="375.76" r="1.8" fill="none" stroke="#b9c9f9" stroke-width="1.2"/>
<circle cx="185.4" cy="378.24" r="1.8" fill="none" stroke="#b9c9f9" stroke-width="1.2"/>
<circle cx="185.4" cy="380.72" r="1.8" fill="none" stroke="#b9c9f9" stroke-width="1.2"/>
<circle cx="185.4" cy="383.21" r="1.8" fill="none" stroke="#b9c9f9" stroke-width="1.2"/>
<circle cx="185.4" cy="385.69" r="1.8" fill="none" stroke="#b9c9f9" stroke-width="1.2"/>
<circle cx="185.4" cy="388.17" r="1.8" fill="none" stroke="#b9c9f9" stroke-width="1.2"/>
<circle cx="185.4" cy="390.65" r="1.8" fill="none" stroke="#b9c9f9" stroke-width="1.2"/>
<circle cx="185.4" cy="393.14" r="1.8" fill="none" stroke="#b9c9f9" stroke-width="1.2"/>
<circle cx="185.4" cy="395.62" r="1.8" fill="none" stroke="#b9c9f9" stroke-width="1.2"/>
<circle cx="185.4" cy="398.1" r="1.8" fill="none" stroke="#b9c9f9" stroke-width="1.2"/>
<circle cx="188.6" cy="299.5" r="1.8" fill="none" stroke="#f1a9d2" stroke-width="1.2"/>
<circle cx="188.6" cy="302" r="1.8" fill="none" stroke="#f1a9d2" stroke-width="1.2"/>
<circle cx="188.6" cy="308.6" r="1.8" fill="none" stroke="#f1a9d2" stroke-width="1.2"/>
<circle cx="188.6" cy="310.93" r="1.8" fill="none" stroke="#f1a9d2" stroke-width="1.2"/>
<circle cx="188.6" cy="313.27" r="1.8" fill="none" stroke="#f1a9d2" stroke-width="1.2"/>
<circle cx="188.6" cy="315.6" r="1.8" fill="none" stroke="#f1a9d2" stroke-width="1.2"/>
<circle cx="188.6" cy="317.93" r="1.8" fill="none" stroke="#f1a9d2" stroke-width="1.2"/>
<circle cx="188.6" cy="320.27" r="1.8" fill="none" stroke="#f1a9d2" stroke-width="1.2"/>
<circle cx="188.6" cy="322.6" r="1.8" fill="none" stroke="#f1a9d2" stroke-width="1.2"/>
<circle cx="188.6" cy="324.93" r="1.8" fill="none" stroke="#f1a9d2" stroke-width="1.2"/>
<circle cx="188.6" cy="327.27" r="1.8" fill="none" stroke="#f1a9d2" stroke-width="1.2"/>
<circle cx="188.6" cy="329.6" r="1.8" fill="none" stroke="#f1a9d2" stroke-width="1.2"/>
<circle cx="188.6" cy="331.93" r="1.8" fill="none" stroke="#f1a9d2" stroke-width="1.2"/>
<circle cx="188.6" cy="334.27" r="1.8" fill="none" stroke="#f1a9d2" stroke-width="1.2"/>
<circle cx="188.6" cy="336.6" r="1.8" fill="none" stroke="#f1a9d2" stroke-width="1.2"/>
<circle cx="188.6" cy="338.93" r="1.8" fill="none" stroke="#f1a9d2" stroke-width="1.2"/>
<circle cx="188.6" cy="341.27" r="1.8" fill="none" stroke="#f1a9d2" stroke-width="1.2"/>
<circle cx="188.6" cy="343.6" r="1.8" fill="none" stroke="#f1a9d2" stroke-width="1.2"/>
<circle cx="188.6" cy="345.93" r="1.8" fill="none" stroke="#f1a9d2" stroke-width="1.2"/>
<circle cx="188.6" cy="348.27" r="1.8" fill="none" stroke="#f1a9d2" stroke-width="1.2"/>
<circle cx="188.6" cy="350.6" r="1.8" fill="none" stroke="#f1a9d2" stroke-width="1.2"/>
<circle cx="202.8" cy="347" r="1.8" fill="none" stroke="#b9c9f9" stroke-width="1.2"/>
<circle cx="202.8" cy="354.9" r="1.8" fill="none" stroke="#b9c9f9" stroke-width="1.2"/>
<circle cx="202.8" cy="362.7" r="1.8" fill="none" stroke="#b9c9f9" stroke-width="1.2"/>
<circle cx="202.8" cy="365.6" r="1.8" fill="none" stroke="#b9c9f9" stroke-width="1.2"/>
<circle cx="202.8" cy="368.4" r="1.8" fill="none" stroke="#b9c9f9" stroke-width="1.2"/>
<circle cx="202.8" cy="371.5" r="1.8" fill="none" stroke="#b9c9f9" stroke-width="1.2"/>
<circle cx="202.8" cy="374.5" r="1.8" fill="none" stroke="#b9c9f9" stroke-width="1.2"/>
<circle cx="202.8" cy="377.5" r="1.8" fill="none" stroke="#b9c9f9" stroke-width="1.2"/>
<circle cx="202.8" cy="381" r="1.8" fill="none" stroke="#b9c9f9" stroke-width="1.2"/>
<circle cx="202.8" cy="384" r="1.8" fill="none" stroke="#b9c9f9" stroke-width="1.2"/>
<circle cx="202.8" cy="387" r="1.8" fill="none" stroke="#b9c9f9" stroke-width="1.2"/>
<circle cx="202.8" cy="390" r="1.8" fill="none" stroke="#b9c9f9" stroke-width="1.2"/>
<circle cx="202.8" cy="392" r="1.8" fill="none" stroke="#b9c9f9" stroke-width="1.2"/>
<circle cx="202.8" cy="394.8" r="1.8" fill="none" stroke="#b9c9f9" stroke-width="1.2"/>
<circle cx="202.8" cy="396.9" r="1.8" fill="none" stroke="#b9c9f9" stroke-width="1.2"/>
<circle cx="202.8" cy="402.6" r="1.8" fill="none" stroke="#b9c9f9" stroke-width="1.2"/>
<circle cx="202.8" cy="408.3" r="1.8" fill="none" stroke="#b9c9f9" stroke-width="1.2"/>
<circle cx="206.5" cy="261.8" r="1.8" fill="none" stroke="#f1a9d2" stroke-width="1.2"/>
<circle cx="206.5" cy="322.1" r="1.8" fill="none" stroke="#f1a9d2" stroke-width="1.2"/>
<circle cx="206.5" cy="325.7" r="1.8" fill="none" stroke="#f1a9d2" stroke-width="1.2"/>
<circle cx="206.5" cy="329.2" r="1.8" fill="none" stroke="#f1a9d2" stroke-width="1.2"/>
<circle cx="206.5" cy="332.8" r="1.8" fill="none" stroke="#f1a9d2" stroke-width="1.2"/>
<circle cx="206.5" cy="336" r="1.8" fill="none" stroke="#f1a9d2" stroke-width="1.2"/>
<circle cx="206.5" cy="340" r="1.8" fill="none" stroke="#f1a9d2" stroke-width="1.2"/>
<circle cx="206.5" cy="343" r="1.8" fill="none" stroke="#f1a9d2" stroke-width="1.2"/>
<circle cx="206.5" cy="345.6" r="1.8" fill="none" stroke="#f1a9d2" stroke-width="1.2"/>
<circle cx="206.5" cy="348.5" r="1.8" fill="none" stroke="#f1a9d2" stroke-width="1.2"/>
<circle cx="206.5" cy="351.3" r="1.8" fill="none" stroke="#f1a9d2" stroke-width="1.2"/>
<circle cx="206.5" cy="355.6" r="1.8" fill="none" stroke="#f1a9d2" stroke-width="1.2"/>
<circle cx="226.4" cy="356.7" r="1.8" fill="none" stroke="#b9c9f9" stroke-width="1.2"/>
<circle cx="226.4" cy="376.3" r="1.8" fill="none" stroke="#b9c9f9" stroke-width="1.2"/>
<circle cx="226.4" cy="378.97" r="1.8" fill="none" stroke="#b9c9f9" stroke-width="1.2"/>
<circle cx="226.4" cy="381.63" r="1.8" fill="none" stroke="#b9c9f9" stroke-width="1.2"/>
<circle cx="226.4" cy="384.3" r="1.8" fill="none" stroke="#b9c9f9" stroke-width="1.2"/>
<circle cx="226.4" cy="386.97" r="1.8" fill="none" stroke="#b9c9f9" stroke-width="1.2"/>
<circle cx="226.4" cy="389.63" r="1.8" fill="none" stroke="#b9c9f9" stroke-width="1.2"/>
<circle cx="226.4" cy="392.3" r="1.8" fill="none" stroke="#b9c9f9" stroke-width="1.2"/>
<circle cx="226.4" cy="394.97" r="1.8" fill="none" stroke="#b9c9f9" stroke-width="1.2"/>
<circle cx="226.4" cy="397.63" r="1.8" fill="none" stroke="#b9c9f9" stroke-width="1.2"/>
<circle cx="226.4" cy="400.3" r="1.8" fill="none" stroke="#b9c9f9" stroke-width="1.2"/>
<circle cx="226.4" cy="402.97" r="1.8" fill="none" stroke="#b9c9f9" stroke-width="1.2"/>
<circle cx="226.4" cy="405.63" r="1.8" fill="none" stroke="#b9c9f9" stroke-width="1.2"/>
<circle cx="226.4" cy="408.3" r="1.8" fill="none" stroke="#b9c9f9" stroke-width="1.2"/>
<circle cx="229.6" cy="301.7" r="1.8" fill="none" stroke="#f1a9d2" stroke-width="1.2"/>
<circle cx="229.6" cy="317.8" r="1.8" fill="none" stroke="#f1a9d2" stroke-width="1.2"/>
<circle cx="229.6" cy="320.7" r="1.8" fill="none" stroke="#f1a9d2" stroke-width="1.2"/>
<circle cx="229.6" cy="327.1" r="1.8" fill="none" stroke="#f1a9d2" stroke-width="1.2"/>
<circle cx="229.6" cy="337.4" r="1.8" fill="none" stroke="#f1a9d2" stroke-width="1.2"/>
<circle cx="229.6" cy="343.5" r="1.8" fill="none" stroke="#f1a9d2" stroke-width="1.2"/>
<circle cx="229.6" cy="346.3" r="1.8" fill="none" stroke="#f1a9d2" stroke-width="1.2"/>
<circle cx="229.6" cy="349.2" r="1.8" fill="none" stroke="#f1a9d2" stroke-width="1.2"/>
<circle cx="229.6" cy="352.5" r="1.8" fill="none" stroke="#f1a9d2" stroke-width="1.2"/>
<circle cx="229.6" cy="356" r="1.8" fill="none" stroke="#f1a9d2" stroke-width="1.2"/>
<circle cx="229.6" cy="359.9" r="1.8" fill="none" stroke="#f1a9d2" stroke-width="1.2"/>
<circle cx="229.6" cy="363.4" r="1.8" fill="none" stroke="#f1a9d2" stroke-width="1.2"/>
<circle cx="229.6" cy="367" r="1.8" fill="none" stroke="#f1a9d2" stroke-width="1.2"/>
<circle cx="229.6" cy="369.9" r="1.8" fill="none" stroke="#f1a9d2" stroke-width="1.2"/>
<circle cx="243.9" cy="372.7" r="1.8" fill="none" stroke="#b9c9f9" stroke-width="1.2"/>
<circle cx="243.9" cy="375.38" r="1.8" fill="none" stroke="#b9c9f9" stroke-width="1.2"/>
<circle cx="243.9" cy="378.07" r="1.8" fill="none" stroke="#b9c9f9" stroke-width="1.2"/>
<circle cx="243.9" cy="380.75" r="1.8" fill="none" stroke="#b9c9f9" stroke-width="1.2"/>
<circle cx="243.9" cy="383.44" r="1.8" fill="none" stroke="#b9c9f9" stroke-width="1.2"/>
<circle cx="243.9" cy="386.12" r="1.8" fill="none" stroke="#b9c9f9" stroke-width="1.2"/>
<circle cx="243.9" cy="388.81" r="1.8" fill="none" stroke="#b9c9f9" stroke-width="1.2"/>
<circle cx="243.9" cy="391.49" r="1.8" fill="none" stroke="#b9c9f9" stroke-width="1.2"/>
<circle cx="243.9" cy="394.18" r="1.8" fill="none" stroke="#b9c9f9" stroke-width="1.2"/>
<circle cx="243.9" cy="396.86" r="1.8" fill="none" stroke="#b9c9f9" stroke-width="1.2"/>
<circle cx="243.9" cy="399.55" r="1.8" fill="none" stroke="#b9c9f9" stroke-width="1.2"/>
<circle cx="243.9" cy="402.23" r="1.8" fill="none" stroke="#b9c9f9" stroke-width="1.2"/>
<circle cx="243.9" cy="404.92" r="1.8" fill="none" stroke="#b9c9f9" stroke-width="1.2"/>
<circle cx="243.9" cy="407.6" r="1.8" fill="none" stroke="#b9c9f9" stroke-width="1.2"/>
<circle cx="247.4" cy="306.6" r="1.8" fill="none" stroke="#f1a9d2" stroke-width="1.2"/>
<circle cx="247.4" cy="327.8" r="1.8" fill="none" stroke="#f1a9d2" stroke-width="1.2"/>
<circle cx="247.4" cy="330.7" r="1.8" fill="none" stroke="#f1a9d2" stroke-width="1.2"/>
<circle cx="247.4" cy="340.6" r="1.8" fill="none" stroke="#f1a9d2" stroke-width="1.2"/>
<circle cx="247.4" cy="344.2" r="1.8" fill="none" stroke="#f1a9d2" stroke-width="1.2"/>
<circle cx="247.4" cy="347.8" r="1.8" fill="none" stroke="#f1a9d2" stroke-width="1.2"/>
<circle cx="247.4" cy="351.3" r="1.8" fill="none" stroke="#f1a9d2" stroke-width="1.2"/>
<circle cx="247.4" cy="354.9" r="1.8" fill="none" stroke="#f1a9d2" stroke-width="1.2"/>
<circle cx="247.4" cy="358.5" r="1.8" fill="none" stroke="#f1a9d2" stroke-width="1.2"/>
<circle cx="247.4" cy="362" r="1.8" fill="none" stroke="#f1a9d2" stroke-width="1.2"/>
<circle cx="247.4" cy="365.6" r="1.8" fill="none" stroke="#f1a9d2" stroke-width="1.2"/>
<circle cx="247.4" cy="369.1" r="1.8" fill="none" stroke="#f1a9d2" stroke-width="1.2"/>
<circle cx="247.4" cy="372.7" r="1.8" fill="none" stroke="#f1a9d2" stroke-width="1.2"/>
<circle cx="247.4" cy="376.3" r="1.8" fill="none" stroke="#f1a9d2" stroke-width="1.2"/>
<circle cx="284.7" cy="392.2" r="1.8" fill="none" stroke="#b9c9f9" stroke-width="1.2"/>
<circle cx="284.7" cy="394.72" r="1.8" fill="none" stroke="#b9c9f9" stroke-width="1.2"/>
<circle cx="284.7" cy="397.25" r="1.8" fill="none" stroke="#b9c9f9" stroke-width="1.2"/>
<circle cx="284.7" cy="399.77" r="1.8" fill="none" stroke="#b9c9f9" stroke-width="1.2"/>
<circle cx="284.7" cy="402.3" r="1.8" fill="none" stroke="#b9c9f9" stroke-width="1.2"/>
<circle cx="284.7" cy="404.82" r="1.8" fill="none" stroke="#b9c9f9" stroke-width="1.2"/>
<circle cx="284.7" cy="407.35" r="1.8" fill="none" stroke="#b9c9f9" stroke-width="1.2"/>
<circle cx="284.7" cy="409.88" r="1.8" fill="none" stroke="#b9c9f9" stroke-width="1.2"/>
<circle cx="284.7" cy="412.4" r="1.8" fill="none" stroke="#b9c9f9" stroke-width="1.2"/>
<circle cx="287.2" cy="335.3" r="1.8" fill="none" stroke="#f1a9d2" stroke-width="1.2"/>
<circle cx="287.2" cy="345" r="1.8" fill="none" stroke="#f1a9d2" stroke-width="1.2"/>
<circle cx="287.2" cy="349.3" r="1.8" fill="none" stroke="#f1a9d2" stroke-width="1.2"/>
<circle cx="287.2" cy="353.5" r="1.8" fill="none" stroke="#f1a9d2" stroke-width="1.2"/>
<circle cx="287.2" cy="355.8" r="1.8" fill="none" stroke="#f1a9d2" stroke-width="1.2"/>
<circle cx="287.2" cy="358" r="1.8" fill="none" stroke="#f1a9d2" stroke-width="1.2"/>
<circle cx="287.2" cy="362" r="1.8" fill="none" stroke="#f1a9d2" stroke-width="1.2"/>
<circle cx="287.2" cy="365" r="1.8" fill="none" stroke="#f1a9d2" stroke-width="1.2"/>
<circle cx="287.2" cy="368" r="1.8" fill="none" stroke="#f1a9d2" stroke-width="1.2"/>
<circle cx="287.2" cy="371.3" r="1.8" fill="none" stroke="#f1a9d2" stroke-width="1.2"/>
<circle cx="287.2" cy="376" r="1.8" fill="none" stroke="#f1a9d2" stroke-width="1.2"/>
<circle cx="287.2" cy="379.8" r="1.8" fill="none" stroke="#f1a9d2" stroke-width="1.2"/>
<circle cx="287.2" cy="383.7" r="1.8" fill="none" stroke="#f1a9d2" stroke-width="1.2"/>
<circle cx="287.2" cy="388.4" r="1.8" fill="none" stroke="#f1a9d2" stroke-width="1.2"/>
<line x1="130.5" y1="313.3" x2="130.5" y2="331.6" stroke="#ea2c6c" stroke-width="1.3" />
<line x1="128.1" y1="313.3" x2="132.9" y2="313.3" stroke="#ea2c6c" stroke-width="1.4" />
<line x1="128.1" y1="331.6" x2="132.9" y2="331.6" stroke="#ea2c6c" stroke-width="1.4" />
<circle cx="130.5" cy="322.7" r="1.9" fill="none" stroke="#ea2c6c" stroke-width="1.4"/>
<line x1="126.9" y1="352.2" x2="126.9" y2="362.2" stroke="#2c2cee" stroke-width="1.3" />
<line x1="124.5" y1="352.2" x2="129.3" y2="352.2" stroke="#2c2cee" stroke-width="1.4" />
<line x1="124.5" y1="362.2" x2="129.3" y2="362.2" stroke="#2c2cee" stroke-width="1.4" />
<circle cx="126.9" cy="357" r="1.9" fill="none" stroke="#2c2cee" stroke-width="1.4"/>
<polygon points="124.95,242.65 125.57,244.14 127.18,244.27 125.96,245.33 126.33,246.9 124.95,246.06 123.57,246.9 123.94,245.33 122.72,244.27 124.33,244.14" fill="#1a1a1a" stroke="#1a1a1a" stroke-width="0.5" stroke-linejoin="round"/>
<polygon points="130.6,242.65 131.22,244.14 132.83,244.27 131.61,245.33 131.98,246.9 130.6,246.06 129.22,246.9 129.59,245.33 128.37,244.27 129.98,244.14" fill="#1a1a1a" stroke="#1a1a1a" stroke-width="0.5" stroke-linejoin="round"/>
<polygon points="136.25,242.65 136.87,244.14 138.48,244.27 137.26,245.33 137.63,246.9 136.25,246.06 134.87,246.9 135.24,245.33 134.02,244.27 135.63,244.14" fill="#1a1a1a" stroke="#1a1a1a" stroke-width="0.5" stroke-linejoin="round"/>
<line x1="171" y1="322.1" x2="171" y2="330.6" stroke="#ea2c6c" stroke-width="1.3" />
<line x1="168.6" y1="322.1" x2="173.4" y2="322.1" stroke="#ea2c6c" stroke-width="1.4" />
<line x1="168.6" y1="330.6" x2="173.4" y2="330.6" stroke="#ea2c6c" stroke-width="1.4" />
<circle cx="171" cy="325.8" r="1.9" fill="none" stroke="#ea2c6c" stroke-width="1.4"/>
<line x1="167.7" y1="367.8" x2="167.7" y2="374.4" stroke="#2c2cee" stroke-width="1.3" />
<line x1="165.3" y1="367.8" x2="170.1" y2="367.8" stroke="#2c2cee" stroke-width="1.4" />
<line x1="165.3" y1="374.4" x2="170.1" y2="374.4" stroke="#2c2cee" stroke-width="1.4" />
<circle cx="167.7" cy="371.2" r="1.9" fill="none" stroke="#2c2cee" stroke-width="1.4"/>
<polygon points="168.05,249.75 168.67,251.24 170.28,251.37 169.06,252.43 169.43,254 168.05,253.16 166.67,254 167.04,252.43 165.82,251.37 167.43,251.24" fill="#1a1a1a" stroke="#1a1a1a" stroke-width="0.5" stroke-linejoin="round"/>
<polygon points="173.7,249.75 174.32,251.24 175.93,251.37 174.71,252.43 175.08,254 173.7,253.16 172.32,254 172.69,252.43 171.47,251.37 173.08,251.24" fill="#1a1a1a" stroke="#1a1a1a" stroke-width="0.5" stroke-linejoin="round"/>
<polygon points="179.35,249.75 179.97,251.24 181.58,251.37 180.36,252.43 180.73,254 179.35,253.16 177.97,254 178.34,252.43 177.12,251.37 178.73,251.24" fill="#1a1a1a" stroke="#1a1a1a" stroke-width="0.5" stroke-linejoin="round"/>
<line x1="188.6" y1="328.4" x2="188.6" y2="334.8" stroke="#ea2c6c" stroke-width="1.3" />
<line x1="186.2" y1="328.4" x2="191" y2="328.4" stroke="#ea2c6c" stroke-width="1.4" />
<line x1="186.2" y1="334.8" x2="191" y2="334.8" stroke="#ea2c6c" stroke-width="1.4" />
<circle cx="188.6" cy="331.6" r="1.9" fill="none" stroke="#ea2c6c" stroke-width="1.4"/>
<line x1="185.4" y1="370.4" x2="185.4" y2="378.2" stroke="#2c2cee" stroke-width="1.3" />
<line x1="183" y1="370.4" x2="187.8" y2="370.4" stroke="#2c2cee" stroke-width="1.4" />
<line x1="183" y1="378.2" x2="187.8" y2="378.2" stroke="#2c2cee" stroke-width="1.4" />
<circle cx="185.4" cy="374.4" r="1.9" fill="none" stroke="#2c2cee" stroke-width="1.4"/>
<polygon points="183.85,289.75 184.47,291.24 186.08,291.37 184.86,292.43 185.23,294 183.85,293.16 182.47,294 182.84,292.43 181.62,291.37 183.23,291.24" fill="#1a1a1a" stroke="#1a1a1a" stroke-width="0.5" stroke-linejoin="round"/>
<polygon points="189.5,289.75 190.12,291.24 191.73,291.37 190.51,292.43 190.88,294 189.5,293.16 188.12,294 188.49,292.43 187.27,291.37 188.88,291.24" fill="#1a1a1a" stroke="#1a1a1a" stroke-width="0.5" stroke-linejoin="round"/>
<polygon points="195.15,289.75 195.77,291.24 197.38,291.37 196.16,292.43 196.53,294 195.15,293.16 193.77,294 194.14,292.43 192.92,291.37 194.53,291.24" fill="#1a1a1a" stroke="#1a1a1a" stroke-width="0.5" stroke-linejoin="round"/>
<line x1="206.5" y1="334.2" x2="206.5" y2="341.4" stroke="#ea2c6c" stroke-width="1.3" />
<line x1="204.1" y1="334.2" x2="208.9" y2="334.2" stroke="#ea2c6c" stroke-width="1.4" />
<line x1="204.1" y1="341.4" x2="208.9" y2="341.4" stroke="#ea2c6c" stroke-width="1.4" />
<circle cx="206.5" cy="337.8" r="1.9" fill="none" stroke="#ea2c6c" stroke-width="1.4"/>
<line x1="202.8" y1="376.3" x2="202.8" y2="382.7" stroke="#2c2cee" stroke-width="1.3" />
<line x1="200.4" y1="376.3" x2="205.2" y2="376.3" stroke="#2c2cee" stroke-width="1.4" />
<line x1="200.4" y1="382.7" x2="205.2" y2="382.7" stroke="#2c2cee" stroke-width="1.4" />
<circle cx="202.8" cy="379.5" r="1.9" fill="none" stroke="#2c2cee" stroke-width="1.4"/>
<polygon points="203.15,252.75 203.77,254.24 205.38,254.37 204.16,255.43 204.53,257 203.15,256.16 201.77,257 202.14,255.43 200.92,254.37 202.53,254.24" fill="#1a1a1a" stroke="#1a1a1a" stroke-width="0.5" stroke-linejoin="round"/>
<polygon points="208.8,252.75 209.42,254.24 211.03,254.37 209.81,255.43 210.18,257 208.8,256.16 207.42,257 207.79,255.43 206.57,254.37 208.18,254.24" fill="#1a1a1a" stroke="#1a1a1a" stroke-width="0.5" stroke-linejoin="round"/>
<polygon points="214.45,252.75 215.07,254.24 216.68,254.37 215.46,255.43 215.83,257 214.45,256.16 213.07,257 213.44,255.43 212.22,254.37 213.83,254.24" fill="#1a1a1a" stroke="#1a1a1a" stroke-width="0.5" stroke-linejoin="round"/>
<line x1="229.6" y1="348.5" x2="229.6" y2="356.5" stroke="#ea2c6c" stroke-width="1.3" />
<line x1="227.2" y1="348.5" x2="232" y2="348.5" stroke="#ea2c6c" stroke-width="1.4" />
<line x1="227.2" y1="356.5" x2="232" y2="356.5" stroke="#ea2c6c" stroke-width="1.4" />
<circle cx="229.6" cy="352.5" r="1.9" fill="none" stroke="#ea2c6c" stroke-width="1.4"/>
<line x1="226.4" y1="384.5" x2="226.4" y2="391" stroke="#2c2cee" stroke-width="1.3" />
<line x1="224" y1="384.5" x2="228.8" y2="384.5" stroke="#2c2cee" stroke-width="1.4" />
<line x1="224" y1="391" x2="228.8" y2="391" stroke="#2c2cee" stroke-width="1.4" />
<circle cx="226.4" cy="387.7" r="1.9" fill="none" stroke="#2c2cee" stroke-width="1.4"/>
<polygon points="222.15,291.35 222.77,292.84 224.38,292.97 223.16,294.03 223.53,295.6 222.15,294.76 220.77,295.6 221.14,294.03 219.92,292.97 221.53,292.84" fill="#1a1a1a" stroke="#1a1a1a" stroke-width="0.5" stroke-linejoin="round"/>
<polygon points="227.8,291.35 228.42,292.84 230.03,292.97 228.81,294.03 229.18,295.6 227.8,294.76 226.42,295.6 226.79,294.03 225.57,292.97 227.18,292.84" fill="#1a1a1a" stroke="#1a1a1a" stroke-width="0.5" stroke-linejoin="round"/>
<polygon points="233.45,291.35 234.07,292.84 235.68,292.97 234.46,294.03 234.83,295.6 233.45,294.76 232.07,295.6 232.44,294.03 231.22,292.97 232.83,292.84" fill="#1a1a1a" stroke="#1a1a1a" stroke-width="0.5" stroke-linejoin="round"/>
<line x1="247.4" y1="351.3" x2="247.4" y2="358.5" stroke="#ea2c6c" stroke-width="1.3" />
<line x1="245" y1="351.3" x2="249.8" y2="351.3" stroke="#ea2c6c" stroke-width="1.4" />
<line x1="245" y1="358.5" x2="249.8" y2="358.5" stroke="#ea2c6c" stroke-width="1.4" />
<circle cx="247.4" cy="354.9" r="1.9" fill="none" stroke="#ea2c6c" stroke-width="1.4"/>
<line x1="243.9" y1="391.5" x2="243.9" y2="396.2" stroke="#2c2cee" stroke-width="1.3" />
<line x1="241.5" y1="391.5" x2="246.3" y2="391.5" stroke="#2c2cee" stroke-width="1.4" />
<line x1="241.5" y1="396.2" x2="246.3" y2="396.2" stroke="#2c2cee" stroke-width="1.4" />
<circle cx="243.9" cy="393.8" r="1.9" fill="none" stroke="#2c2cee" stroke-width="1.4"/>
<polygon points="242.65,300.65 243.27,302.14 244.88,302.27 243.66,303.33 244.03,304.9 242.65,304.06 241.27,304.9 241.64,303.33 240.42,302.27 242.03,302.14" fill="#1a1a1a" stroke="#1a1a1a" stroke-width="0.5" stroke-linejoin="round"/>
<polygon points="248.3,300.65 248.92,302.14 250.53,302.27 249.31,303.33 249.68,304.9 248.3,304.06 246.92,304.9 247.29,303.33 246.07,302.27 247.68,302.14" fill="#1a1a1a" stroke="#1a1a1a" stroke-width="0.5" stroke-linejoin="round"/>
<polygon points="253.95,300.65 254.57,302.14 256.18,302.27 254.96,303.33 255.33,304.9 253.95,304.06 252.57,304.9 252.94,303.33 251.72,302.27 253.33,302.14" fill="#1a1a1a" stroke="#1a1a1a" stroke-width="0.5" stroke-linejoin="round"/>
<line x1="287.2" y1="362" x2="287.2" y2="369" stroke="#ea2c6c" stroke-width="1.3" />
<line x1="284.8" y1="362" x2="289.6" y2="362" stroke="#ea2c6c" stroke-width="1.4" />
<line x1="284.8" y1="369" x2="289.6" y2="369" stroke="#ea2c6c" stroke-width="1.4" />
<circle cx="287.2" cy="365.1" r="1.9" fill="none" stroke="#ea2c6c" stroke-width="1.4"/>
<line x1="284.7" y1="402" x2="284.7" y2="405.5" stroke="#2c2cee" stroke-width="1.3" />
<line x1="282.3" y1="402" x2="287.1" y2="402" stroke="#2c2cee" stroke-width="1.4" />
<line x1="282.3" y1="405.5" x2="287.1" y2="405.5" stroke="#2c2cee" stroke-width="1.4" />
<circle cx="284.7" cy="403.6" r="1.9" fill="none" stroke="#2c2cee" stroke-width="1.4"/>
<polygon points="280.85,314.05 281.47,315.54 283.08,315.67 281.86,316.73 282.23,318.3 280.85,317.46 279.47,318.3 279.84,316.73 278.62,315.67 280.23,315.54" fill="#1a1a1a" stroke="#1a1a1a" stroke-width="0.5" stroke-linejoin="round"/>
<polygon points="286.5,314.05 287.12,315.54 288.73,315.67 287.51,316.73 287.88,318.3 286.5,317.46 285.12,318.3 285.49,316.73 284.27,315.67 285.88,315.54" fill="#1a1a1a" stroke="#1a1a1a" stroke-width="0.5" stroke-linejoin="round"/>
<polygon points="292.15,314.05 292.77,315.54 294.38,315.67 293.16,316.73 293.53,318.3 292.15,317.46 290.77,318.3 291.14,316.73 289.92,315.67 291.53,315.54" fill="#1a1a1a" stroke="#1a1a1a" stroke-width="0.5" stroke-linejoin="round"/>
<text x="335.7" y="234.3" font-size="21.5" fill="#111" text-anchor="start" >D</text>
<line x1="416.8" y1="257.1" x2="416.8" y2="425" stroke="#1a1a1a" stroke-width="1.3" />
<line x1="408.2" y1="257.7" x2="416.8" y2="257.7" stroke="#1a1a1a" stroke-width="1.3" />
<text x="403" y="263.7" font-size="16.5" fill="#1a1a1a" text-anchor="end" >1.5</text>
<line x1="408.2" y1="341.3" x2="416.8" y2="341.3" stroke="#1a1a1a" stroke-width="1.3" />
<text x="403" y="346.2" font-size="16.5" fill="#1a1a1a" text-anchor="end" >1.0</text>
<line x1="408.2" y1="424.4" x2="416.8" y2="424.4" stroke="#1a1a1a" stroke-width="1.3" />
<text x="403" y="429.6" font-size="16.5" fill="#1a1a1a" text-anchor="end" >0.5</text>
<text x="0" y="0" font-size="16.8" fill="#1a1a1a" text-anchor="middle" transform="translate(367.2,332.8) rotate(-90)">Time to peak (norm.)</text>
<line x1="430.1" y1="424.5" x2="449.1" y2="424.5" stroke="#1a1a1a" stroke-width="1.3" />
<line x1="458.4" y1="424.5" x2="671.9" y2="424.5" stroke="#1a1a1a" stroke-width="1.3" />
<line x1="430.1" y1="424" x2="430.1" y2="431.5" stroke="#1a1a1a" stroke-width="1.3" />
<line x1="445.8" y1="428.6" x2="454.3" y2="421.5" stroke="#1a1a1a" stroke-width="1.3" />
<line x1="450.8" y1="429.5" x2="459.3" y2="422.2" stroke="#1a1a1a" stroke-width="1.3" />
<line x1="472.02" y1="424.5" x2="472.02" y2="428.6" stroke="#1a1a1a" stroke-width="1.15" />
<line x1="476.8" y1="424.5" x2="476.8" y2="428.6" stroke="#1a1a1a" stroke-width="1.15" />
<line x1="480.84" y1="424.5" x2="480.84" y2="428.6" stroke="#1a1a1a" stroke-width="1.15" />
<line x1="484.35" y1="424.5" x2="484.35" y2="428.6" stroke="#1a1a1a" stroke-width="1.15" />
<line x1="487.44" y1="424.5" x2="487.44" y2="428.6" stroke="#1a1a1a" stroke-width="1.15" />
<line x1="508.38" y1="424.5" x2="508.38" y2="428.6" stroke="#1a1a1a" stroke-width="1.15" />
<line x1="519.02" y1="424.5" x2="519.02" y2="428.6" stroke="#1a1a1a" stroke-width="1.15" />
<line x1="526.56" y1="424.5" x2="526.56" y2="428.6" stroke="#1a1a1a" stroke-width="1.15" />
<line x1="532.42" y1="424.5" x2="532.42" y2="428.6" stroke="#1a1a1a" stroke-width="1.15" />
<line x1="537.2" y1="424.5" x2="537.2" y2="428.6" stroke="#1a1a1a" stroke-width="1.15" />
<line x1="541.24" y1="424.5" x2="541.24" y2="428.6" stroke="#1a1a1a" stroke-width="1.15" />
<line x1="544.75" y1="424.5" x2="544.75" y2="428.6" stroke="#1a1a1a" stroke-width="1.15" />
<line x1="547.84" y1="424.5" x2="547.84" y2="428.6" stroke="#1a1a1a" stroke-width="1.15" />
<line x1="568.78" y1="424.5" x2="568.78" y2="428.6" stroke="#1a1a1a" stroke-width="1.15" />
<line x1="579.42" y1="424.5" x2="579.42" y2="428.6" stroke="#1a1a1a" stroke-width="1.15" />
<line x1="586.96" y1="424.5" x2="586.96" y2="428.6" stroke="#1a1a1a" stroke-width="1.15" />
<line x1="592.82" y1="424.5" x2="592.82" y2="428.6" stroke="#1a1a1a" stroke-width="1.15" />
<line x1="597.6" y1="424.5" x2="597.6" y2="428.6" stroke="#1a1a1a" stroke-width="1.15" />
<line x1="601.64" y1="424.5" x2="601.64" y2="428.6" stroke="#1a1a1a" stroke-width="1.15" />
<line x1="605.15" y1="424.5" x2="605.15" y2="428.6" stroke="#1a1a1a" stroke-width="1.15" />
<line x1="608.24" y1="424.5" x2="608.24" y2="428.6" stroke="#1a1a1a" stroke-width="1.15" />
<line x1="629.18" y1="424.5" x2="629.18" y2="428.6" stroke="#1a1a1a" stroke-width="1.15" />
<line x1="639.82" y1="424.5" x2="639.82" y2="428.6" stroke="#1a1a1a" stroke-width="1.15" />
<line x1="647.36" y1="424.5" x2="647.36" y2="428.6" stroke="#1a1a1a" stroke-width="1.15" />
<line x1="653.22" y1="424.5" x2="653.22" y2="428.6" stroke="#1a1a1a" stroke-width="1.15" />
<line x1="658" y1="424.5" x2="658" y2="428.6" stroke="#1a1a1a" stroke-width="1.15" />
<line x1="662.04" y1="424.5" x2="662.04" y2="428.6" stroke="#1a1a1a" stroke-width="1.15" />
<line x1="665.55" y1="424.5" x2="665.55" y2="428.6" stroke="#1a1a1a" stroke-width="1.15" />
<line x1="668.64" y1="424.5" x2="668.64" y2="428.6" stroke="#1a1a1a" stroke-width="1.15" />
<line x1="490.2" y1="424.5" x2="490.2" y2="432.5" stroke="#1a1a1a" stroke-width="1.15" />
<line x1="550.6" y1="424.5" x2="550.6" y2="432.5" stroke="#1a1a1a" stroke-width="1.15" />
<line x1="611" y1="424.5" x2="611" y2="432.5" stroke="#1a1a1a" stroke-width="1.15" />
<line x1="671.4" y1="424.5" x2="671.4" y2="432.5" stroke="#1a1a1a" stroke-width="1.15" />
<text x="430.9" y="459.6" font-size="16.5" fill="#1a1a1a" text-anchor="middle" >0</text>
<text x="486.9" y="459.6" font-size="16.5" fill="#1a1a1a" text-anchor="middle" >10</text>
<text x="496.5" y="448.4" font-size="12" fill="#1a1a1a" text-anchor="start" >2</text>
<text x="547.3" y="459.6" font-size="16.5" fill="#1a1a1a" text-anchor="middle" >10</text>
<text x="556.9" y="448.4" font-size="12" fill="#1a1a1a" text-anchor="start" >3</text>
<text x="607.7" y="459.6" font-size="16.5" fill="#1a1a1a" text-anchor="middle" >10</text>
<text x="617.3" y="448.4" font-size="12" fill="#1a1a1a" text-anchor="start" >4</text>
<text x="668.1" y="459.6" font-size="16.5" fill="#1a1a1a" text-anchor="middle" >10</text>
<text x="677.7" y="448.4" font-size="12" fill="#1a1a1a" text-anchor="start" >5</text>
<text x="467.6" y="489.8" font-size="16.75" fill="#1a1a1a" text-anchor="start" >Background (R*/cone/s)</text>
<line x1="490.9" y1="263.1" x2="589" y2="263.1" stroke="#c3d2f8" stroke-width="1.3" />
<polygon points="535.25,257.25 535.87,258.74 537.48,258.87 536.26,259.93 536.63,261.5 535.25,260.66 533.87,261.5 534.24,259.93 533.02,258.87 534.63,258.74" fill="#1a1a1a" stroke="#1a1a1a" stroke-width="0.5" stroke-linejoin="round"/>
<polygon points="540.9,257.25 541.52,258.74 543.13,258.87 541.91,259.93 542.28,261.5 540.9,260.66 539.52,261.5 539.89,259.93 538.67,258.87 540.28,258.74" fill="#1a1a1a" stroke="#1a1a1a" stroke-width="0.5" stroke-linejoin="round"/>
<polygon points="546.55,257.25 547.17,258.74 548.78,258.87 547.56,259.93 547.93,261.5 546.55,260.66 545.17,261.5 545.54,259.93 544.32,258.87 545.93,258.74" fill="#1a1a1a" stroke="#1a1a1a" stroke-width="0.5" stroke-linejoin="round"/>
<line x1="535.7" y1="287.5" x2="593.9" y2="287.5" stroke="#c3d2f8" stroke-width="1.3" />
<polygon points="558.45,281.15 559.07,282.64 560.68,282.77 559.46,283.83 559.83,285.4 558.45,284.56 557.07,285.4 557.44,283.83 556.22,282.77 557.83,282.64" fill="#1a1a1a" stroke="#1a1a1a" stroke-width="0.5" stroke-linejoin="round"/>
<polygon points="564.1,281.15 564.72,282.64 566.33,282.77 565.11,283.83 565.48,285.4 564.1,284.56 562.72,285.4 563.09,283.83 561.87,282.77 563.48,282.64" fill="#1a1a1a" stroke="#1a1a1a" stroke-width="0.5" stroke-linejoin="round"/>
<polygon points="569.75,281.15 570.37,282.64 571.98,282.77 570.76,283.83 571.13,285.4 569.75,284.56 568.37,285.4 568.74,283.83 567.52,282.77 569.13,282.64" fill="#1a1a1a" stroke="#1a1a1a" stroke-width="0.5" stroke-linejoin="round"/>
<line x1="551.8" y1="300.5" x2="593.9" y2="300.5" stroke="#c3d2f8" stroke-width="1.3" />
<polygon points="565.25,294.55 565.87,296.04 567.48,296.17 566.26,297.23 566.63,298.8 565.25,297.96 563.87,298.8 564.24,297.23 563.02,296.17 564.63,296.04" fill="#1a1a1a" stroke="#1a1a1a" stroke-width="0.5" stroke-linejoin="round"/>
<polygon points="570.9,294.55 571.52,296.04 573.13,296.17 571.91,297.23 572.28,298.8 570.9,297.96 569.52,298.8 569.89,297.23 568.67,296.17 570.28,296.04" fill="#1a1a1a" stroke="#1a1a1a" stroke-width="0.5" stroke-linejoin="round"/>
<polygon points="576.55,294.55 577.17,296.04 578.78,296.17 577.56,297.23 577.93,298.8 576.55,297.96 575.17,298.8 575.54,297.23 574.32,296.17 575.93,296.04" fill="#1a1a1a" stroke="#1a1a1a" stroke-width="0.5" stroke-linejoin="round"/>
<line x1="569.3" y1="314.3" x2="593.9" y2="314.3" stroke="#c3d2f8" stroke-width="1.3" />
<polygon points="575.95,306.85 576.57,308.34 578.18,308.47 576.96,309.53 577.33,311.1 575.95,310.26 574.57,311.1 574.94,309.53 573.72,308.47 575.33,308.34" fill="#1a1a1a" stroke="#1a1a1a" stroke-width="0.5" stroke-linejoin="round"/>
<polygon points="581.6,306.85 582.22,308.34 583.83,308.47 582.61,309.53 582.98,311.1 581.6,310.26 580.22,311.1 580.59,309.53 579.37,308.47 580.98,308.34" fill="#1a1a1a" stroke="#1a1a1a" stroke-width="0.5" stroke-linejoin="round"/>
<polygon points="587.25,306.85 587.87,308.34 589.48,308.47 588.26,309.53 588.63,311.1 587.25,310.26 585.87,311.1 586.24,309.53 585.02,308.47 586.63,308.34" fill="#1a1a1a" stroke="#1a1a1a" stroke-width="0.5" stroke-linejoin="round"/>
<line x1="594.1" y1="325.5" x2="610.9" y2="325.5" stroke="#c3d2f8" stroke-width="1.3" />
<polygon points="596.25,318.55 596.87,320.04 598.48,320.17 597.26,321.23 597.63,322.8 596.25,321.96 594.87,322.8 595.24,321.23 594.02,320.17 595.63,320.04" fill="#1a1a1a" stroke="#1a1a1a" stroke-width="0.5" stroke-linejoin="round"/>
<polygon points="601.9,318.55 602.52,320.04 604.13,320.17 602.91,321.23 603.28,322.8 601.9,321.96 600.52,322.8 600.89,321.23 599.67,320.17 601.28,320.04" fill="#1a1a1a" stroke="#1a1a1a" stroke-width="0.5" stroke-linejoin="round"/>
<polygon points="607.55,318.55 608.17,320.04 609.78,320.17 608.56,321.23 608.93,322.8 607.55,321.96 606.17,322.8 606.54,321.23 605.32,320.17 606.93,320.04" fill="#1a1a1a" stroke="#1a1a1a" stroke-width="0.5" stroke-linejoin="round"/>
<line x1="594.5" y1="334" x2="651.8" y2="334" stroke="#c3d2f8" stroke-width="1.3" />
<polygon points="618.05,327.55 618.67,329.04 620.28,329.17 619.06,330.23 619.43,331.8 618.05,330.96 616.67,331.8 617.04,330.23 615.82,329.17 617.43,329.04" fill="#1a1a1a" stroke="#1a1a1a" stroke-width="0.5" stroke-linejoin="round"/>
<polygon points="623.7,327.55 624.32,329.04 625.93,329.17 624.71,330.23 625.08,331.8 623.7,330.96 622.32,331.8 622.69,330.23 621.47,329.17 623.08,329.04" fill="#1a1a1a" stroke="#1a1a1a" stroke-width="0.5" stroke-linejoin="round"/>
<polygon points="629.35,327.55 629.97,329.04 631.58,329.17 630.36,330.23 630.73,331.8 629.35,330.96 627.97,331.8 628.34,330.23 627.12,329.17 628.73,329.04" fill="#1a1a1a" stroke="#1a1a1a" stroke-width="0.5" stroke-linejoin="round"/>
<line x1="571.1" y1="358.2" x2="594.8" y2="358.2" stroke="#f5bcf2" stroke-width="1.3" />
<polygon points="577.75,361.65 578.37,363.14 579.98,363.27 578.76,364.33 579.13,365.9 577.75,365.06 576.37,365.9 576.74,364.33 575.52,363.27 577.13,363.14" fill="#1a1a1a" stroke="#1a1a1a" stroke-width="0.5" stroke-linejoin="round"/>
<polygon points="583.4,361.65 584.02,363.14 585.63,363.27 584.41,364.33 584.78,365.9 583.4,365.06 582.02,365.9 582.39,364.33 581.17,363.27 582.78,363.14" fill="#1a1a1a" stroke="#1a1a1a" stroke-width="0.5" stroke-linejoin="round"/>
<polygon points="589.05,361.65 589.67,363.14 591.28,363.27 590.06,364.33 590.43,365.9 589.05,365.06 587.67,365.9 588.04,364.33 586.82,363.27 588.43,363.14" fill="#1a1a1a" stroke="#1a1a1a" stroke-width="0.5" stroke-linejoin="round"/>
<line x1="553.9" y1="369.8" x2="594.8" y2="369.8" stroke="#f5bcf2" stroke-width="1.3" />
<polygon points="570.55,373.85 571.17,375.34 572.78,375.47 571.56,376.53 571.93,378.1 570.55,377.26 569.17,378.1 569.54,376.53 568.32,375.47 569.93,375.34" fill="#1a1a1a" stroke="#1a1a1a" stroke-width="0.5" stroke-linejoin="round"/>
<polygon points="576.2,373.85 576.82,375.34 578.43,375.47 577.21,376.53 577.58,378.1 576.2,377.26 574.82,378.1 575.19,376.53 573.97,375.47 575.58,375.34" fill="#1a1a1a" stroke="#1a1a1a" stroke-width="0.5" stroke-linejoin="round"/>
<polygon points="581.85,373.85 582.47,375.34 584.08,375.47 582.86,376.53 583.23,378.1 581.85,377.26 580.47,378.1 580.84,376.53 579.62,375.47 581.23,375.34" fill="#1a1a1a" stroke="#1a1a1a" stroke-width="0.5" stroke-linejoin="round"/>
<line x1="536.9" y1="380.7" x2="594.8" y2="380.7" stroke="#f5bcf2" stroke-width="1.3" />
<polygon points="563.35,383.15 563.97,384.64 565.58,384.77 564.36,385.83 564.73,387.4 563.35,386.56 561.97,387.4 562.34,385.83 561.12,384.77 562.73,384.64" fill="#1a1a1a" stroke="#1a1a1a" stroke-width="0.5" stroke-linejoin="round"/>
<polygon points="569,383.15 569.62,384.64 571.23,384.77 570.01,385.83 570.38,387.4 569,386.56 567.62,387.4 567.99,385.83 566.77,384.77 568.38,384.64" fill="#1a1a1a" stroke="#1a1a1a" stroke-width="0.5" stroke-linejoin="round"/>
<polygon points="574.65,383.15 575.27,384.64 576.88,384.77 575.66,385.83 576.03,387.4 574.65,386.56 573.27,387.4 573.64,385.83 572.42,384.77 574.03,384.64" fill="#1a1a1a" stroke="#1a1a1a" stroke-width="0.5" stroke-linejoin="round"/>
<line x1="494.4" y1="391.5" x2="594.8" y2="391.5" stroke="#f5bcf2" stroke-width="1.3" />
<polygon points="539.55,395.85 540.17,397.34 541.78,397.47 540.56,398.53 540.93,400.1 539.55,399.26 538.17,400.1 538.54,398.53 537.32,397.47 538.93,397.34" fill="#1a1a1a" stroke="#1a1a1a" stroke-width="0.5" stroke-linejoin="round"/>
<polygon points="545.2,395.85 545.82,397.34 547.43,397.47 546.21,398.53 546.58,400.1 545.2,399.26 543.82,400.1 544.19,398.53 542.97,397.47 544.58,397.34" fill="#1a1a1a" stroke="#1a1a1a" stroke-width="0.5" stroke-linejoin="round"/>
<polygon points="550.85,395.85 551.47,397.34 553.08,397.47 551.86,398.53 552.23,400.1 550.85,399.26 549.47,400.1 549.84,398.53 548.62,397.47 550.23,397.34" fill="#1a1a1a" stroke="#1a1a1a" stroke-width="0.5" stroke-linejoin="round"/>
<line x1="597" y1="401" x2="614" y2="401" stroke="#f5bcf2" stroke-width="1.3" />
<polygon points="600.25,404.25 600.87,405.74 602.48,405.87 601.26,406.93 601.63,408.5 600.25,407.66 598.87,408.5 599.24,406.93 598.02,405.87 599.63,405.74" fill="#1a1a1a" stroke="#1a1a1a" stroke-width="0.5" stroke-linejoin="round"/>
<polygon points="605.9,404.25 606.52,405.74 608.13,405.87 606.91,406.93 607.28,408.5 605.9,407.66 604.52,408.5 604.89,406.93 603.67,405.87 605.28,405.74" fill="#1a1a1a" stroke="#1a1a1a" stroke-width="0.5" stroke-linejoin="round"/>
<polygon points="611.55,404.25 612.17,405.74 613.78,405.87 612.56,406.93 612.93,408.5 611.55,407.66 610.17,408.5 610.54,406.93 609.32,405.87 610.93,405.74" fill="#1a1a1a" stroke="#1a1a1a" stroke-width="0.5" stroke-linejoin="round"/>
<line x1="597" y1="411.8" x2="654.1" y2="411.8" stroke="#f5bcf2" stroke-width="1.3" />
<polygon points="621.15,414.65 621.77,416.14 623.38,416.27 622.16,417.33 622.53,418.9 621.15,418.06 619.77,418.9 620.14,417.33 618.92,416.27 620.53,416.14" fill="#1a1a1a" stroke="#1a1a1a" stroke-width="0.5" stroke-linejoin="round"/>
<polygon points="626.8,414.65 627.42,416.14 629.03,416.27 627.81,417.33 628.18,418.9 626.8,418.06 625.42,418.9 625.79,417.33 624.57,416.27 626.18,416.14" fill="#1a1a1a" stroke="#1a1a1a" stroke-width="0.5" stroke-linejoin="round"/>
<polygon points="632.45,414.65 633.07,416.14 634.68,416.27 633.46,417.33 633.83,418.9 632.45,418.06 631.07,418.9 631.44,417.33 630.22,416.27 631.83,416.14" fill="#1a1a1a" stroke="#1a1a1a" stroke-width="0.5" stroke-linejoin="round"/>
<line x1="490.2" y1="304.8" x2="490.2" y2="319.7" stroke="#ea2c6c" stroke-width="1.5" />
<line x1="486.7" y1="304.8" x2="493.7" y2="304.8" stroke="#ea2c6c" stroke-width="1.5" />
<line x1="486.7" y1="319.7" x2="493.7" y2="319.7" stroke="#ea2c6c" stroke-width="1.5" />
<circle cx="490.2" cy="312.2" r="3.6" fill="#ea2c6c"/>
<line x1="490.2" y1="275.4" x2="490.2" y2="293.3" stroke="#2c2cee" stroke-width="1.5" />
<line x1="486.7" y1="275.4" x2="493.7" y2="275.4" stroke="#2c2cee" stroke-width="1.5" />
<line x1="486.7" y1="293.3" x2="493.7" y2="293.3" stroke="#2c2cee" stroke-width="1.5" />
<circle cx="490.2" cy="284.2" r="3.6" fill="#2c2cee"/>
<line x1="532.6" y1="312.2" x2="532.6" y2="318.2" stroke="#ea2c6c" stroke-width="1.5" />
<line x1="529.1" y1="312.2" x2="536.1" y2="312.2" stroke="#ea2c6c" stroke-width="1.5" />
<line x1="529.1" y1="318.2" x2="536.1" y2="318.2" stroke="#ea2c6c" stroke-width="1.5" />
<circle cx="532.6" cy="315.2" r="3.6" fill="#ea2c6c"/>
<line x1="532.6" y1="300.5" x2="532.6" y2="310.4" stroke="#2c2cee" stroke-width="1.5" />
<line x1="529.1" y1="300.5" x2="536.1" y2="300.5" stroke="#2c2cee" stroke-width="1.5" />
<line x1="529.1" y1="310.4" x2="536.1" y2="310.4" stroke="#2c2cee" stroke-width="1.5" />
<circle cx="532.6" cy="305.7" r="3.6" fill="#2c2cee"/>
<line x1="551" y1="303.1" x2="551" y2="312" stroke="#ea2c6c" stroke-width="1.5" />
<line x1="547.5" y1="303.1" x2="554.5" y2="303.1" stroke="#ea2c6c" stroke-width="1.5" />
<line x1="547.5" y1="312" x2="554.5" y2="312" stroke="#ea2c6c" stroke-width="1.5" />
<circle cx="551" cy="309.2" r="3.6" fill="#ea2c6c"/>
<line x1="551" y1="311.3" x2="551" y2="318" stroke="#2c2cee" stroke-width="1.5" />
<line x1="547.5" y1="311.3" x2="554.5" y2="311.3" stroke="#2c2cee" stroke-width="1.5" />
<line x1="547.5" y1="318" x2="554.5" y2="318" stroke="#2c2cee" stroke-width="1.5" />
<circle cx="551" cy="314.5" r="3.6" fill="#2c2cee"/>
<line x1="569" y1="326.5" x2="569" y2="333.5" stroke="#ea2c6c" stroke-width="1.5" />
<line x1="565.5" y1="326.5" x2="572.5" y2="326.5" stroke="#ea2c6c" stroke-width="1.5" />
<line x1="565.5" y1="333.5" x2="572.5" y2="333.5" stroke="#ea2c6c" stroke-width="1.5" />
<circle cx="569" cy="330.2" r="3.6" fill="#ea2c6c"/>
<line x1="569" y1="320.6" x2="569" y2="327.1" stroke="#2c2cee" stroke-width="1.5" />
<line x1="565.5" y1="320.6" x2="572.5" y2="320.6" stroke="#2c2cee" stroke-width="1.5" />
<line x1="565.5" y1="327.1" x2="572.5" y2="327.1" stroke="#2c2cee" stroke-width="1.5" />
<circle cx="569" cy="324.5" r="3.6" fill="#2c2cee"/>
<circle cx="593" cy="341.2" r="3.6" fill="#ea2c6c"/>
<circle cx="593" cy="341.2" r="3.6" fill="#2c2cee"/>
<line x1="611.5" y1="342.4" x2="611.5" y2="351.6" stroke="#ea2c6c" stroke-width="1.5" />
<line x1="608" y1="342.4" x2="615" y2="342.4" stroke="#ea2c6c" stroke-width="1.5" />
<line x1="608" y1="351.6" x2="615" y2="351.6" stroke="#ea2c6c" stroke-width="1.5" />
<circle cx="611.5" cy="347" r="3.6" fill="#ea2c6c"/>
<line x1="611.5" y1="347.4" x2="611.5" y2="355.4" stroke="#2c2cee" stroke-width="1.5" />
<line x1="608" y1="347.4" x2="615" y2="347.4" stroke="#2c2cee" stroke-width="1.5" />
<line x1="608" y1="355.4" x2="615" y2="355.4" stroke="#2c2cee" stroke-width="1.5" />
<circle cx="611.5" cy="351.4" r="3.6" fill="#2c2cee"/>
<line x1="653.6" y1="352.6" x2="653.6" y2="365" stroke="#ea2c6c" stroke-width="1.5" />
<line x1="650.1" y1="352.6" x2="657.1" y2="352.6" stroke="#ea2c6c" stroke-width="1.5" />
<line x1="650.1" y1="365" x2="657.1" y2="365" stroke="#ea2c6c" stroke-width="1.5" />
<circle cx="653.6" cy="359.1" r="3.6" fill="#ea2c6c"/>
<line x1="653.6" y1="365.6" x2="653.6" y2="372.3" stroke="#2c2cee" stroke-width="1.5" />
<line x1="650.1" y1="365.6" x2="657.1" y2="365.6" stroke="#2c2cee" stroke-width="1.5" />
<line x1="650.1" y1="372.3" x2="657.1" y2="372.3" stroke="#2c2cee" stroke-width="1.5" />
<circle cx="653.6" cy="368.9" r="3.6" fill="#2c2cee"/>
<text x="2.7" y="542.8" font-size="21.5" fill="#111" text-anchor="start" >E</text>
<line x1="59.9" y1="563.8" x2="59.9" y2="733.4" stroke="#1a1a1a" stroke-width="1.3" />
<line x1="51.2" y1="574.8" x2="59.9" y2="574.8" stroke="#1a1a1a" stroke-width="1.3" />
<line x1="51.2" y1="667.7" x2="59.9" y2="667.7" stroke="#1a1a1a" stroke-width="1.3" />
<line x1="55.3" y1="593.38" x2="59.9" y2="593.38" stroke="#1a1a1a" stroke-width="1.3" />
<line x1="55.3" y1="611.96" x2="59.9" y2="611.96" stroke="#1a1a1a" stroke-width="1.3" />
<line x1="55.3" y1="630.54" x2="59.9" y2="630.54" stroke="#1a1a1a" stroke-width="1.3" />
<line x1="55.3" y1="649.12" x2="59.9" y2="649.12" stroke="#1a1a1a" stroke-width="1.3" />
<line x1="55.3" y1="686.28" x2="59.9" y2="686.28" stroke="#1a1a1a" stroke-width="1.3" />
<line x1="55.3" y1="704.86" x2="59.9" y2="704.86" stroke="#1a1a1a" stroke-width="1.3" />
<line x1="55.3" y1="723.44" x2="59.9" y2="723.44" stroke="#1a1a1a" stroke-width="1.3" />
<text x="47.3" y="580.8" font-size="16.5" fill="#1a1a1a" text-anchor="end" >100</text>
<text x="47.3" y="673.7" font-size="16.5" fill="#1a1a1a" text-anchor="end" >50</text>
<text x="0" y="0" font-size="17" fill="#1a1a1a" text-anchor="middle" transform="translate(18.1,644.7) rotate(-90)">FWHM (ms)</text>
<line x1="67.8" y1="738.6" x2="86.8" y2="738.6" stroke="#1a1a1a" stroke-width="1.3" />
<line x1="96.1" y1="738.6" x2="300.5" y2="738.6" stroke="#1a1a1a" stroke-width="1.3" />
<line x1="67.8" y1="738.1" x2="67.8" y2="745.6" stroke="#1a1a1a" stroke-width="1.3" />
<line x1="83.5" y1="742.7" x2="92" y2="735.6" stroke="#1a1a1a" stroke-width="1.3" />
<line x1="88.5" y1="743.6" x2="97" y2="736.3" stroke="#1a1a1a" stroke-width="1.3" />
<line x1="107.88" y1="738.6" x2="107.88" y2="742.7" stroke="#1a1a1a" stroke-width="1.15" />
<line x1="112.49" y1="738.6" x2="112.49" y2="742.7" stroke="#1a1a1a" stroke-width="1.15" />
<line x1="116.38" y1="738.6" x2="116.38" y2="742.7" stroke="#1a1a1a" stroke-width="1.15" />
<line x1="119.76" y1="738.6" x2="119.76" y2="742.7" stroke="#1a1a1a" stroke-width="1.15" />
<line x1="122.74" y1="738.6" x2="122.74" y2="742.7" stroke="#1a1a1a" stroke-width="1.15" />
<line x1="142.92" y1="738.6" x2="142.92" y2="742.7" stroke="#1a1a1a" stroke-width="1.15" />
<line x1="153.17" y1="738.6" x2="153.17" y2="742.7" stroke="#1a1a1a" stroke-width="1.15" />
<line x1="160.44" y1="738.6" x2="160.44" y2="742.7" stroke="#1a1a1a" stroke-width="1.15" />
<line x1="166.08" y1="738.6" x2="166.08" y2="742.7" stroke="#1a1a1a" stroke-width="1.15" />
<line x1="170.69" y1="738.6" x2="170.69" y2="742.7" stroke="#1a1a1a" stroke-width="1.15" />
<line x1="174.58" y1="738.6" x2="174.58" y2="742.7" stroke="#1a1a1a" stroke-width="1.15" />
<line x1="177.96" y1="738.6" x2="177.96" y2="742.7" stroke="#1a1a1a" stroke-width="1.15" />
<line x1="180.94" y1="738.6" x2="180.94" y2="742.7" stroke="#1a1a1a" stroke-width="1.15" />
<line x1="201.12" y1="738.6" x2="201.12" y2="742.7" stroke="#1a1a1a" stroke-width="1.15" />
<line x1="211.37" y1="738.6" x2="211.37" y2="742.7" stroke="#1a1a1a" stroke-width="1.15" />
<line x1="218.64" y1="738.6" x2="218.64" y2="742.7" stroke="#1a1a1a" stroke-width="1.15" />
<line x1="224.28" y1="738.6" x2="224.28" y2="742.7" stroke="#1a1a1a" stroke-width="1.15" />
<line x1="228.89" y1="738.6" x2="228.89" y2="742.7" stroke="#1a1a1a" stroke-width="1.15" />
<line x1="232.78" y1="738.6" x2="232.78" y2="742.7" stroke="#1a1a1a" stroke-width="1.15" />
<line x1="236.16" y1="738.6" x2="236.16" y2="742.7" stroke="#1a1a1a" stroke-width="1.15" />
<line x1="239.14" y1="738.6" x2="239.14" y2="742.7" stroke="#1a1a1a" stroke-width="1.15" />
<line x1="259.32" y1="738.6" x2="259.32" y2="742.7" stroke="#1a1a1a" stroke-width="1.15" />
<line x1="269.57" y1="738.6" x2="269.57" y2="742.7" stroke="#1a1a1a" stroke-width="1.15" />
<line x1="276.84" y1="738.6" x2="276.84" y2="742.7" stroke="#1a1a1a" stroke-width="1.15" />
<line x1="282.48" y1="738.6" x2="282.48" y2="742.7" stroke="#1a1a1a" stroke-width="1.15" />
<line x1="287.09" y1="738.6" x2="287.09" y2="742.7" stroke="#1a1a1a" stroke-width="1.15" />
<line x1="290.98" y1="738.6" x2="290.98" y2="742.7" stroke="#1a1a1a" stroke-width="1.15" />
<line x1="294.36" y1="738.6" x2="294.36" y2="742.7" stroke="#1a1a1a" stroke-width="1.15" />
<line x1="297.34" y1="738.6" x2="297.34" y2="742.7" stroke="#1a1a1a" stroke-width="1.15" />
<line x1="125.4" y1="738.6" x2="125.4" y2="746.6" stroke="#1a1a1a" stroke-width="1.15" />
<line x1="183.6" y1="738.6" x2="183.6" y2="746.6" stroke="#1a1a1a" stroke-width="1.15" />
<line x1="241.8" y1="738.6" x2="241.8" y2="746.6" stroke="#1a1a1a" stroke-width="1.15" />
<line x1="300" y1="738.6" x2="300" y2="746.6" stroke="#1a1a1a" stroke-width="1.15" />
<text x="68.6" y="776.6" font-size="16.5" fill="#1a1a1a" text-anchor="middle" >0</text>
<text x="122.1" y="776.6" font-size="16.5" fill="#1a1a1a" text-anchor="middle" >10</text>
<text x="131.7" y="765.4" font-size="12" fill="#1a1a1a" text-anchor="start" >2</text>
<text x="180.3" y="776.6" font-size="16.5" fill="#1a1a1a" text-anchor="middle" >10</text>
<text x="189.9" y="765.4" font-size="12" fill="#1a1a1a" text-anchor="start" >3</text>
<text x="238.5" y="776.6" font-size="16.5" fill="#1a1a1a" text-anchor="middle" >10</text>
<text x="248.1" y="765.4" font-size="12" fill="#1a1a1a" text-anchor="start" >4</text>
<text x="296.7" y="776.6" font-size="16.5" fill="#1a1a1a" text-anchor="middle" >10</text>
<text x="306.3" y="765.4" font-size="12" fill="#1a1a1a" text-anchor="start" >5</text>
<text x="99.9" y="801.1" font-size="16.75" fill="#1a1a1a" text-anchor="start" >Background (R*/cone/s)</text>
<circle cx="125.6" cy="588.5" r="1.8" fill="none" stroke="#b9c9f9" stroke-width="1.2"/>
<circle cx="125.6" cy="595.2" r="1.8" fill="none" stroke="#b9c9f9" stroke-width="1.2"/>
<circle cx="125.6" cy="618.2" r="1.8" fill="none" stroke="#b9c9f9" stroke-width="1.2"/>
<circle cx="125.6" cy="637.2" r="1.8" fill="none" stroke="#b9c9f9" stroke-width="1.2"/>
<circle cx="125.6" cy="647" r="1.8" fill="none" stroke="#b9c9f9" stroke-width="1.2"/>
<circle cx="125.6" cy="656.6" r="1.8" fill="none" stroke="#b9c9f9" stroke-width="1.2"/>
<circle cx="125.6" cy="660" r="1.8" fill="none" stroke="#b9c9f9" stroke-width="1.2"/>
<circle cx="125.6" cy="663.3" r="1.8" fill="none" stroke="#b9c9f9" stroke-width="1.2"/>
<circle cx="125.6" cy="668" r="1.8" fill="none" stroke="#b9c9f9" stroke-width="1.2"/>
<circle cx="125.6" cy="676" r="1.8" fill="none" stroke="#b9c9f9" stroke-width="1.2"/>
<circle cx="125.6" cy="686.8" r="1.8" fill="none" stroke="#b9c9f9" stroke-width="1.2"/>
<circle cx="125.6" cy="692.3" r="1.8" fill="none" stroke="#b9c9f9" stroke-width="1.2"/>
<circle cx="125.6" cy="701.3" r="1.8" fill="none" stroke="#b9c9f9" stroke-width="1.2"/>
<circle cx="125.6" cy="704.6" r="1.8" fill="none" stroke="#b9c9f9" stroke-width="1.2"/>
<circle cx="125.6" cy="708" r="1.8" fill="none" stroke="#b9c9f9" stroke-width="1.2"/>
<circle cx="125.6" cy="711.3" r="1.8" fill="none" stroke="#b9c9f9" stroke-width="1.2"/>
<circle cx="125.6" cy="714.7" r="1.8" fill="none" stroke="#b9c9f9" stroke-width="1.2"/>
<circle cx="125.6" cy="719.1" r="1.8" fill="none" stroke="#b9c9f9" stroke-width="1.2"/>
<circle cx="129.4" cy="564.6" r="1.8" fill="none" stroke="#f1a9d2" stroke-width="1.2"/>
<circle cx="129.4" cy="632.7" r="1.8" fill="none" stroke="#f1a9d2" stroke-width="1.2"/>
<circle cx="129.4" cy="635.8" r="1.8" fill="none" stroke="#f1a9d2" stroke-width="1.2"/>
<circle cx="129.4" cy="645" r="1.8" fill="none" stroke="#f1a9d2" stroke-width="1.2"/>
<circle cx="129.4" cy="652" r="1.8" fill="none" stroke="#f1a9d2" stroke-width="1.2"/>
<circle cx="129.4" cy="657" r="1.8" fill="none" stroke="#f1a9d2" stroke-width="1.2"/>
<circle cx="129.4" cy="664" r="1.8" fill="none" stroke="#f1a9d2" stroke-width="1.2"/>
<circle cx="129.4" cy="668" r="1.8" fill="none" stroke="#f1a9d2" stroke-width="1.2"/>
<circle cx="129.4" cy="679.6" r="1.8" fill="none" stroke="#f1a9d2" stroke-width="1.2"/>
<circle cx="129.4" cy="689" r="1.8" fill="none" stroke="#f1a9d2" stroke-width="1.2"/>
<circle cx="129.4" cy="691.7" r="1.8" fill="none" stroke="#f1a9d2" stroke-width="1.2"/>
<circle cx="129.4" cy="701.7" r="1.8" fill="none" stroke="#f1a9d2" stroke-width="1.2"/>
<circle cx="166.5" cy="586.3" r="1.8" fill="none" stroke="#b9c9f9" stroke-width="1.2"/>
<circle cx="166.5" cy="636.5" r="1.8" fill="none" stroke="#b9c9f9" stroke-width="1.2"/>
<circle cx="166.5" cy="638.7" r="1.8" fill="none" stroke="#b9c9f9" stroke-width="1.2"/>
<circle cx="166.5" cy="662" r="1.8" fill="none" stroke="#b9c9f9" stroke-width="1.2"/>
<circle cx="166.5" cy="664.5" r="1.8" fill="none" stroke="#b9c9f9" stroke-width="1.2"/>
<circle cx="166.5" cy="667" r="1.8" fill="none" stroke="#b9c9f9" stroke-width="1.2"/>
<circle cx="166.5" cy="672" r="1.8" fill="none" stroke="#b9c9f9" stroke-width="1.2"/>
<circle cx="166.5" cy="676" r="1.8" fill="none" stroke="#b9c9f9" stroke-width="1.2"/>
<circle cx="166.5" cy="679" r="1.8" fill="none" stroke="#b9c9f9" stroke-width="1.2"/>
<circle cx="166.5" cy="684" r="1.8" fill="none" stroke="#b9c9f9" stroke-width="1.2"/>
<circle cx="166.5" cy="691.2" r="1.8" fill="none" stroke="#b9c9f9" stroke-width="1.2"/>
<circle cx="166.5" cy="694.6" r="1.8" fill="none" stroke="#b9c9f9" stroke-width="1.2"/>
<circle cx="166.5" cy="697.9" r="1.8" fill="none" stroke="#b9c9f9" stroke-width="1.2"/>
<circle cx="166.5" cy="704" r="1.8" fill="none" stroke="#b9c9f9" stroke-width="1.2"/>
<circle cx="166.5" cy="712.9" r="1.8" fill="none" stroke="#b9c9f9" stroke-width="1.2"/>
<circle cx="166.5" cy="719.1" r="1.8" fill="none" stroke="#b9c9f9" stroke-width="1.2"/>
<circle cx="166.5" cy="721" r="1.8" fill="none" stroke="#b9c9f9" stroke-width="1.2"/>
<circle cx="166.5" cy="723" r="1.8" fill="none" stroke="#b9c9f9" stroke-width="1.2"/>
<circle cx="169.8" cy="615.3" r="1.8" fill="none" stroke="#f1a9d2" stroke-width="1.2"/>
<circle cx="169.8" cy="629.1" r="1.8" fill="none" stroke="#f1a9d2" stroke-width="1.2"/>
<circle cx="169.8" cy="639.9" r="1.8" fill="none" stroke="#f1a9d2" stroke-width="1.2"/>
<circle cx="169.8" cy="642.1" r="1.8" fill="none" stroke="#f1a9d2" stroke-width="1.2"/>
<circle cx="169.8" cy="644.3" r="1.8" fill="none" stroke="#f1a9d2" stroke-width="1.2"/>
<circle cx="169.8" cy="648" r="1.8" fill="none" stroke="#f1a9d2" stroke-width="1.2"/>
<circle cx="169.8" cy="652" r="1.8" fill="none" stroke="#f1a9d2" stroke-width="1.2"/>
<circle cx="169.8" cy="657" r="1.8" fill="none" stroke="#f1a9d2" stroke-width="1.2"/>
<circle cx="169.8" cy="661" r="1.8" fill="none" stroke="#f1a9d2" stroke-width="1.2"/>
<circle cx="169.8" cy="663.5" r="1.8" fill="none" stroke="#f1a9d2" stroke-width="1.2"/>
<circle cx="169.8" cy="666" r="1.8" fill="none" stroke="#f1a9d2" stroke-width="1.2"/>
<circle cx="169.8" cy="668.5" r="1.8" fill="none" stroke="#f1a9d2" stroke-width="1.2"/>
<circle cx="169.8" cy="671" r="1.8" fill="none" stroke="#f1a9d2" stroke-width="1.2"/>
<circle cx="169.8" cy="673.5" r="1.8" fill="none" stroke="#f1a9d2" stroke-width="1.2"/>
<circle cx="169.8" cy="675.6" r="1.8" fill="none" stroke="#f1a9d2" stroke-width="1.2"/>
<circle cx="169.8" cy="684.1" r="1.8" fill="none" stroke="#f1a9d2" stroke-width="1.2"/>
<circle cx="184.1" cy="662.2" r="1.8" fill="none" stroke="#b9c9f9" stroke-width="1.2"/>
<circle cx="184.1" cy="664.8" r="1.8" fill="none" stroke="#b9c9f9" stroke-width="1.2"/>
<circle cx="184.1" cy="667.4" r="1.8" fill="none" stroke="#b9c9f9" stroke-width="1.2"/>
<circle cx="184.1" cy="670" r="1.8" fill="none" stroke="#b9c9f9" stroke-width="1.2"/>
<circle cx="184.1" cy="672.6" r="1.8" fill="none" stroke="#b9c9f9" stroke-width="1.2"/>
<circle cx="184.1" cy="675.2" r="1.8" fill="none" stroke="#b9c9f9" stroke-width="1.2"/>
<circle cx="184.1" cy="677.8" r="1.8" fill="none" stroke="#b9c9f9" stroke-width="1.2"/>
<circle cx="184.1" cy="680.1" r="1.8" fill="none" stroke="#b9c9f9" stroke-width="1.2"/>
<circle cx="184.1" cy="683" r="1.8" fill="none" stroke="#b9c9f9" stroke-width="1.2"/>
<circle cx="184.1" cy="686.8" r="1.8" fill="none" stroke="#b9c9f9" stroke-width="1.2"/>
<circle cx="184.1" cy="690" r="1.8" fill="none" stroke="#b9c9f9" stroke-width="1.2"/>
<circle cx="184.1" cy="693.5" r="1.8" fill="none" stroke="#b9c9f9" stroke-width="1.2"/>
<circle cx="184.1" cy="696" r="1.8" fill="none" stroke="#b9c9f9" stroke-width="1.2"/>
<circle cx="184.1" cy="698.5" r="1.8" fill="none" stroke="#b9c9f9" stroke-width="1.2"/>
<circle cx="184.1" cy="701" r="1.8" fill="none" stroke="#b9c9f9" stroke-width="1.2"/>
<circle cx="184.1" cy="703.5" r="1.8" fill="none" stroke="#b9c9f9" stroke-width="1.2"/>
<circle cx="184.1" cy="704.6" r="1.8" fill="none" stroke="#b9c9f9" stroke-width="1.2"/>
<circle cx="184.1" cy="713.6" r="1.8" fill="none" stroke="#b9c9f9" stroke-width="1.2"/>
<circle cx="184.1" cy="718" r="1.8" fill="none" stroke="#b9c9f9" stroke-width="1.2"/>
<circle cx="187.3" cy="618.6" r="1.8" fill="none" stroke="#f1a9d2" stroke-width="1.2"/>
<circle cx="187.3" cy="634.3" r="1.8" fill="none" stroke="#f1a9d2" stroke-width="1.2"/>
<circle cx="187.3" cy="637.6" r="1.8" fill="none" stroke="#f1a9d2" stroke-width="1.2"/>
<circle cx="187.3" cy="641" r="1.8" fill="none" stroke="#f1a9d2" stroke-width="1.2"/>
<circle cx="187.3" cy="649.5" r="1.8" fill="none" stroke="#f1a9d2" stroke-width="1.2"/>
<circle cx="187.3" cy="653" r="1.8" fill="none" stroke="#f1a9d2" stroke-width="1.2"/>
<circle cx="187.3" cy="657" r="1.8" fill="none" stroke="#f1a9d2" stroke-width="1.2"/>
<circle cx="187.3" cy="661" r="1.8" fill="none" stroke="#f1a9d2" stroke-width="1.2"/>
<circle cx="187.3" cy="664.4" r="1.8" fill="none" stroke="#f1a9d2" stroke-width="1.2"/>
<circle cx="187.3" cy="666.9" r="1.8" fill="none" stroke="#f1a9d2" stroke-width="1.2"/>
<circle cx="187.3" cy="669.4" r="1.8" fill="none" stroke="#f1a9d2" stroke-width="1.2"/>
<circle cx="187.3" cy="671.9" r="1.8" fill="none" stroke="#f1a9d2" stroke-width="1.2"/>
<circle cx="187.3" cy="674.4" r="1.8" fill="none" stroke="#f1a9d2" stroke-width="1.2"/>
<circle cx="187.3" cy="676.7" r="1.8" fill="none" stroke="#f1a9d2" stroke-width="1.2"/>
<circle cx="201.7" cy="651.2" r="1.8" fill="none" stroke="#b9c9f9" stroke-width="1.2"/>
<circle cx="201.7" cy="654.08" r="1.8" fill="none" stroke="#b9c9f9" stroke-width="1.2"/>
<circle cx="201.7" cy="656.96" r="1.8" fill="none" stroke="#b9c9f9" stroke-width="1.2"/>
<circle cx="201.7" cy="659.84" r="1.8" fill="none" stroke="#b9c9f9" stroke-width="1.2"/>
<circle cx="201.7" cy="662.72" r="1.8" fill="none" stroke="#b9c9f9" stroke-width="1.2"/>
<circle cx="201.7" cy="665.6" r="1.8" fill="none" stroke="#b9c9f9" stroke-width="1.2"/>
<circle cx="201.7" cy="668.48" r="1.8" fill="none" stroke="#b9c9f9" stroke-width="1.2"/>
<circle cx="201.7" cy="671.36" r="1.8" fill="none" stroke="#b9c9f9" stroke-width="1.2"/>
<circle cx="201.7" cy="674.24" r="1.8" fill="none" stroke="#b9c9f9" stroke-width="1.2"/>
<circle cx="201.7" cy="677.12" r="1.8" fill="none" stroke="#b9c9f9" stroke-width="1.2"/>
<circle cx="201.7" cy="680" r="1.8" fill="none" stroke="#b9c9f9" stroke-width="1.2"/>
<circle cx="201.7" cy="684" r="1.8" fill="none" stroke="#b9c9f9" stroke-width="1.2"/>
<circle cx="201.7" cy="688" r="1.8" fill="none" stroke="#b9c9f9" stroke-width="1.2"/>
<circle cx="201.7" cy="692.6" r="1.8" fill="none" stroke="#b9c9f9" stroke-width="1.2"/>
<circle cx="201.7" cy="695" r="1.8" fill="none" stroke="#b9c9f9" stroke-width="1.2"/>
<circle cx="201.7" cy="697.4" r="1.8" fill="none" stroke="#b9c9f9" stroke-width="1.2"/>
<circle cx="201.7" cy="699.8" r="1.8" fill="none" stroke="#b9c9f9" stroke-width="1.2"/>
<circle cx="201.7" cy="706" r="1.8" fill="none" stroke="#b9c9f9" stroke-width="1.2"/>
<circle cx="201.7" cy="709.2" r="1.8" fill="none" stroke="#b9c9f9" stroke-width="1.2"/>
<circle cx="201.7" cy="712.4" r="1.8" fill="none" stroke="#b9c9f9" stroke-width="1.2"/>
<circle cx="201.7" cy="715.6" r="1.8" fill="none" stroke="#b9c9f9" stroke-width="1.2"/>
<circle cx="201.7" cy="718.7" r="1.8" fill="none" stroke="#b9c9f9" stroke-width="1.2"/>
<circle cx="205.3" cy="652.1" r="1.8" fill="none" stroke="#f1a9d2" stroke-width="1.2"/>
<circle cx="205.3" cy="654.8" r="1.8" fill="none" stroke="#f1a9d2" stroke-width="1.2"/>
<circle cx="205.3" cy="658.4" r="1.8" fill="none" stroke="#f1a9d2" stroke-width="1.2"/>
<circle cx="205.3" cy="661.5" r="1.8" fill="none" stroke="#f1a9d2" stroke-width="1.2"/>
<circle cx="205.3" cy="664.7" r="1.8" fill="none" stroke="#f1a9d2" stroke-width="1.2"/>
<circle cx="205.3" cy="668" r="1.8" fill="none" stroke="#f1a9d2" stroke-width="1.2"/>
<circle cx="205.3" cy="673.7" r="1.8" fill="none" stroke="#f1a9d2" stroke-width="1.2"/>
<circle cx="205.3" cy="676.4" r="1.8" fill="none" stroke="#f1a9d2" stroke-width="1.2"/>
<circle cx="205.3" cy="679.1" r="1.8" fill="none" stroke="#f1a9d2" stroke-width="1.2"/>
<circle cx="205.3" cy="681.8" r="1.8" fill="none" stroke="#f1a9d2" stroke-width="1.2"/>
<circle cx="225.5" cy="679.1" r="1.8" fill="none" stroke="#b9c9f9" stroke-width="1.2"/>
<circle cx="225.5" cy="681.67" r="1.8" fill="none" stroke="#b9c9f9" stroke-width="1.2"/>
<circle cx="225.5" cy="684.24" r="1.8" fill="none" stroke="#b9c9f9" stroke-width="1.2"/>
<circle cx="225.5" cy="686.81" r="1.8" fill="none" stroke="#b9c9f9" stroke-width="1.2"/>
<circle cx="225.5" cy="689.39" r="1.8" fill="none" stroke="#b9c9f9" stroke-width="1.2"/>
<circle cx="225.5" cy="691.96" r="1.8" fill="none" stroke="#b9c9f9" stroke-width="1.2"/>
<circle cx="225.5" cy="694.53" r="1.8" fill="none" stroke="#b9c9f9" stroke-width="1.2"/>
<circle cx="225.5" cy="697.1" r="1.8" fill="none" stroke="#b9c9f9" stroke-width="1.2"/>
<circle cx="225.5" cy="699.67" r="1.8" fill="none" stroke="#b9c9f9" stroke-width="1.2"/>
<circle cx="225.5" cy="702.24" r="1.8" fill="none" stroke="#b9c9f9" stroke-width="1.2"/>
<circle cx="225.5" cy="704.81" r="1.8" fill="none" stroke="#b9c9f9" stroke-width="1.2"/>
<circle cx="225.5" cy="707.39" r="1.8" fill="none" stroke="#b9c9f9" stroke-width="1.2"/>
<circle cx="225.5" cy="709.96" r="1.8" fill="none" stroke="#b9c9f9" stroke-width="1.2"/>
<circle cx="225.5" cy="712.53" r="1.8" fill="none" stroke="#b9c9f9" stroke-width="1.2"/>
<circle cx="225.5" cy="715.1" r="1.8" fill="none" stroke="#b9c9f9" stroke-width="1.2"/>
<circle cx="228.3" cy="639.5" r="1.8" fill="none" stroke="#f1a9d2" stroke-width="1.2"/>
<circle cx="228.3" cy="646.1" r="1.8" fill="none" stroke="#f1a9d2" stroke-width="1.2"/>
<circle cx="228.3" cy="652.1" r="1.8" fill="none" stroke="#f1a9d2" stroke-width="1.2"/>
<circle cx="228.3" cy="661" r="1.8" fill="none" stroke="#f1a9d2" stroke-width="1.2"/>
<circle cx="228.3" cy="663.8" r="1.8" fill="none" stroke="#f1a9d2" stroke-width="1.2"/>
<circle cx="228.3" cy="666.5" r="1.8" fill="none" stroke="#f1a9d2" stroke-width="1.2"/>
<circle cx="228.3" cy="669.5" r="1.8" fill="none" stroke="#f1a9d2" stroke-width="1.2"/>
<circle cx="228.3" cy="672.5" r="1.8" fill="none" stroke="#f1a9d2" stroke-width="1.2"/>
<circle cx="228.3" cy="676.4" r="1.8" fill="none" stroke="#f1a9d2" stroke-width="1.2"/>
<circle cx="228.3" cy="679.6" r="1.8" fill="none" stroke="#f1a9d2" stroke-width="1.2"/>
<circle cx="228.3" cy="682.8" r="1.8" fill="none" stroke="#f1a9d2" stroke-width="1.2"/>
<circle cx="228.3" cy="686" r="1.8" fill="none" stroke="#f1a9d2" stroke-width="1.2"/>
<circle cx="228.3" cy="689.2" r="1.8" fill="none" stroke="#f1a9d2" stroke-width="1.2"/>
<circle cx="228.3" cy="692.6" r="1.8" fill="none" stroke="#f1a9d2" stroke-width="1.2"/>
<circle cx="228.3" cy="698" r="1.8" fill="none" stroke="#f1a9d2" stroke-width="1.2"/>
<circle cx="242.5" cy="689" r="1.8" fill="none" stroke="#b9c9f9" stroke-width="1.2"/>
<circle cx="242.5" cy="691.63" r="1.8" fill="none" stroke="#b9c9f9" stroke-width="1.2"/>
<circle cx="242.5" cy="694.26" r="1.8" fill="none" stroke="#b9c9f9" stroke-width="1.2"/>
<circle cx="242.5" cy="696.89" r="1.8" fill="none" stroke="#b9c9f9" stroke-width="1.2"/>
<circle cx="242.5" cy="699.52" r="1.8" fill="none" stroke="#b9c9f9" stroke-width="1.2"/>
<circle cx="242.5" cy="702.15" r="1.8" fill="none" stroke="#b9c9f9" stroke-width="1.2"/>
<circle cx="242.5" cy="704.78" r="1.8" fill="none" stroke="#b9c9f9" stroke-width="1.2"/>
<circle cx="242.5" cy="707.42" r="1.8" fill="none" stroke="#b9c9f9" stroke-width="1.2"/>
<circle cx="242.5" cy="710.05" r="1.8" fill="none" stroke="#b9c9f9" stroke-width="1.2"/>
<circle cx="242.5" cy="712.68" r="1.8" fill="none" stroke="#b9c9f9" stroke-width="1.2"/>
<circle cx="242.5" cy="715.31" r="1.8" fill="none" stroke="#b9c9f9" stroke-width="1.2"/>
<circle cx="242.5" cy="717.94" r="1.8" fill="none" stroke="#b9c9f9" stroke-width="1.2"/>
<circle cx="242.5" cy="720.57" r="1.8" fill="none" stroke="#b9c9f9" stroke-width="1.2"/>
<circle cx="242.5" cy="723.2" r="1.8" fill="none" stroke="#b9c9f9" stroke-width="1.2"/>
<circle cx="246.3" cy="646.1" r="1.8" fill="none" stroke="#f1a9d2" stroke-width="1.2"/>
<circle cx="246.3" cy="659.3" r="1.8" fill="none" stroke="#f1a9d2" stroke-width="1.2"/>
<circle cx="246.3" cy="662.5" r="1.8" fill="none" stroke="#f1a9d2" stroke-width="1.2"/>
<circle cx="246.3" cy="665.7" r="1.8" fill="none" stroke="#f1a9d2" stroke-width="1.2"/>
<circle cx="246.3" cy="669" r="1.8" fill="none" stroke="#f1a9d2" stroke-width="1.2"/>
<circle cx="246.3" cy="672.4" r="1.8" fill="none" stroke="#f1a9d2" stroke-width="1.2"/>
<circle cx="246.3" cy="675.7" r="1.8" fill="none" stroke="#f1a9d2" stroke-width="1.2"/>
<circle cx="246.3" cy="679" r="1.8" fill="none" stroke="#f1a9d2" stroke-width="1.2"/>
<circle cx="246.3" cy="682.2" r="1.8" fill="none" stroke="#f1a9d2" stroke-width="1.2"/>
<circle cx="246.3" cy="685.4" r="1.8" fill="none" stroke="#f1a9d2" stroke-width="1.2"/>
<circle cx="246.3" cy="688.6" r="1.8" fill="none" stroke="#f1a9d2" stroke-width="1.2"/>
<circle cx="246.3" cy="691.7" r="1.8" fill="none" stroke="#f1a9d2" stroke-width="1.2"/>
<circle cx="283.6" cy="690.6" r="1.8" fill="none" stroke="#b9c9f9" stroke-width="1.2"/>
<circle cx="283.6" cy="697.3" r="1.8" fill="none" stroke="#b9c9f9" stroke-width="1.2"/>
<circle cx="283.6" cy="699.94" r="1.8" fill="none" stroke="#b9c9f9" stroke-width="1.2"/>
<circle cx="283.6" cy="702.57" r="1.8" fill="none" stroke="#b9c9f9" stroke-width="1.2"/>
<circle cx="283.6" cy="705.21" r="1.8" fill="none" stroke="#b9c9f9" stroke-width="1.2"/>
<circle cx="283.6" cy="707.85" r="1.8" fill="none" stroke="#b9c9f9" stroke-width="1.2"/>
<circle cx="283.6" cy="710.48" r="1.8" fill="none" stroke="#b9c9f9" stroke-width="1.2"/>
<circle cx="283.6" cy="713.12" r="1.8" fill="none" stroke="#b9c9f9" stroke-width="1.2"/>
<circle cx="283.6" cy="715.75" r="1.8" fill="none" stroke="#b9c9f9" stroke-width="1.2"/>
<circle cx="283.6" cy="718.39" r="1.8" fill="none" stroke="#b9c9f9" stroke-width="1.2"/>
<circle cx="283.6" cy="721.03" r="1.8" fill="none" stroke="#b9c9f9" stroke-width="1.2"/>
<circle cx="283.6" cy="723.66" r="1.8" fill="none" stroke="#b9c9f9" stroke-width="1.2"/>
<circle cx="283.6" cy="726.3" r="1.8" fill="none" stroke="#b9c9f9" stroke-width="1.2"/>
<circle cx="286" cy="653.5" r="1.8" fill="none" stroke="#f1a9d2" stroke-width="1.2"/>
<circle cx="286" cy="663.9" r="1.8" fill="none" stroke="#f1a9d2" stroke-width="1.2"/>
<circle cx="286" cy="668" r="1.8" fill="none" stroke="#f1a9d2" stroke-width="1.2"/>
<circle cx="286" cy="672" r="1.8" fill="none" stroke="#f1a9d2" stroke-width="1.2"/>
<circle cx="286" cy="676" r="1.8" fill="none" stroke="#f1a9d2" stroke-width="1.2"/>
<circle cx="286" cy="679.5" r="1.8" fill="none" stroke="#f1a9d2" stroke-width="1.2"/>
<circle cx="286" cy="686.9" r="1.8" fill="none" stroke="#f1a9d2" stroke-width="1.2"/>
<circle cx="286" cy="697.3" r="1.8" fill="none" stroke="#f1a9d2" stroke-width="1.2"/>
<circle cx="286" cy="699.8" r="1.8" fill="none" stroke="#f1a9d2" stroke-width="1.2"/>
<circle cx="286" cy="702.3" r="1.8" fill="none" stroke="#f1a9d2" stroke-width="1.2"/>
<circle cx="286" cy="704.8" r="1.8" fill="none" stroke="#f1a9d2" stroke-width="1.2"/>
<line x1="129.4" y1="652.1" x2="129.4" y2="669.3" stroke="#ea2c6c" stroke-width="1.5" />
<line x1="126" y1="652.1" x2="132.8" y2="652.1" stroke="#ea2c6c" stroke-width="1.5" />
<line x1="126" y1="669.3" x2="132.8" y2="669.3" stroke="#ea2c6c" stroke-width="1.5" />
<circle cx="129.4" cy="660.4" r="2.3" fill="#ea2c6c"/>
<line x1="125.6" y1="665.1" x2="125.6" y2="680.1" stroke="#2c2cee" stroke-width="1.5" />
<line x1="122.2" y1="665.1" x2="129" y2="665.1" stroke="#2c2cee" stroke-width="1.5" />
<line x1="122.2" y1="680.1" x2="129" y2="680.1" stroke="#2c2cee" stroke-width="1.5" />
<circle cx="125.6" cy="672.2" r="2.3" fill="#2c2cee"/>
<line x1="169.8" y1="647.2" x2="169.8" y2="657.7" stroke="#ea2c6c" stroke-width="1.5" />
<line x1="166.4" y1="647.2" x2="173.2" y2="647.2" stroke="#ea2c6c" stroke-width="1.5" />
<line x1="166.4" y1="657.7" x2="173.2" y2="657.7" stroke="#ea2c6c" stroke-width="1.5" />
<circle cx="169.8" cy="652.6" r="2.3" fill="#ea2c6c"/>
<line x1="166.5" y1="670.5" x2="166.5" y2="681.6" stroke="#2c2cee" stroke-width="1.5" />
<line x1="163.1" y1="670.5" x2="169.9" y2="670.5" stroke="#2c2cee" stroke-width="1.5" />
<line x1="163.1" y1="681.6" x2="169.9" y2="681.6" stroke="#2c2cee" stroke-width="1.5" />
<circle cx="166.5" cy="675.6" r="2.3" fill="#2c2cee"/>
<polygon points="167.98,591.65 168.6,593.14 170.21,593.27 168.98,594.33 169.36,595.9 167.98,595.06 166.59,595.9 166.97,594.33 165.74,593.27 167.35,593.14" fill="#1a1a1a" stroke="#1a1a1a" stroke-width="0.5" stroke-linejoin="round"/>
<polygon points="173.63,591.65 174.25,593.14 175.86,593.27 174.63,594.33 175.01,595.9 173.63,595.06 172.24,595.9 172.62,594.33 171.39,593.27 173,593.14" fill="#1a1a1a" stroke="#1a1a1a" stroke-width="0.5" stroke-linejoin="round"/>
<line x1="187.3" y1="653.3" x2="187.3" y2="661.1" stroke="#ea2c6c" stroke-width="1.5" />
<line x1="183.9" y1="653.3" x2="190.7" y2="653.3" stroke="#ea2c6c" stroke-width="1.5" />
<line x1="183.9" y1="661.1" x2="190.7" y2="661.1" stroke="#ea2c6c" stroke-width="1.5" />
<circle cx="187.3" cy="657.1" r="2.3" fill="#ea2c6c"/>
<line x1="184.1" y1="683.4" x2="184.1" y2="689.4" stroke="#2c2cee" stroke-width="1.5" />
<line x1="180.7" y1="683.4" x2="187.5" y2="683.4" stroke="#2c2cee" stroke-width="1.5" />
<line x1="180.7" y1="689.4" x2="187.5" y2="689.4" stroke="#2c2cee" stroke-width="1.5" />
<circle cx="184.1" cy="686.8" r="2.3" fill="#2c2cee"/>
<polygon points="183.15,601.25 183.77,602.74 185.38,602.87 184.16,603.93 184.53,605.5 183.15,604.66 181.77,605.5 182.14,603.93 180.92,602.87 182.53,602.74" fill="#1a1a1a" stroke="#1a1a1a" stroke-width="0.5" stroke-linejoin="round"/>
<polygon points="188.8,601.25 189.42,602.74 191.03,602.87 189.81,603.93 190.18,605.5 188.8,604.66 187.42,605.5 187.79,603.93 186.57,602.87 188.18,602.74" fill="#1a1a1a" stroke="#1a1a1a" stroke-width="0.5" stroke-linejoin="round"/>
<polygon points="194.45,601.25 195.07,602.74 196.68,602.87 195.46,603.93 195.83,605.5 194.45,604.66 193.07,605.5 193.44,603.93 192.22,602.87 193.83,602.74" fill="#1a1a1a" stroke="#1a1a1a" stroke-width="0.5" stroke-linejoin="round"/>
<line x1="205.3" y1="660.5" x2="205.3" y2="669.2" stroke="#ea2c6c" stroke-width="1.5" />
<line x1="201.9" y1="660.5" x2="208.7" y2="660.5" stroke="#ea2c6c" stroke-width="1.5" />
<line x1="201.9" y1="669.2" x2="208.7" y2="669.2" stroke="#ea2c6c" stroke-width="1.5" />
<circle cx="205.3" cy="664.7" r="2.3" fill="#ea2c6c"/>
<line x1="201.7" y1="683.9" x2="201.7" y2="691.1" stroke="#2c2cee" stroke-width="1.5" />
<line x1="198.3" y1="683.9" x2="205.1" y2="683.9" stroke="#2c2cee" stroke-width="1.5" />
<line x1="198.3" y1="691.1" x2="205.1" y2="691.1" stroke="#2c2cee" stroke-width="1.5" />
<circle cx="201.7" cy="688.1" r="2.3" fill="#2c2cee"/>
<polygon points="201.05,610.85 201.67,612.34 203.28,612.47 202.06,613.53 202.43,615.1 201.05,614.26 199.67,615.1 200.04,613.53 198.82,612.47 200.43,612.34" fill="#1a1a1a" stroke="#1a1a1a" stroke-width="0.5" stroke-linejoin="round"/>
<polygon points="206.7,610.85 207.32,612.34 208.93,612.47 207.71,613.53 208.08,615.1 206.7,614.26 205.32,615.1 205.69,613.53 204.47,612.47 206.08,612.34" fill="#1a1a1a" stroke="#1a1a1a" stroke-width="0.5" stroke-linejoin="round"/>
<polygon points="212.35,610.85 212.97,612.34 214.58,612.47 213.36,613.53 213.73,615.1 212.35,614.26 210.97,615.1 211.34,613.53 210.12,612.47 211.73,612.34" fill="#1a1a1a" stroke="#1a1a1a" stroke-width="0.5" stroke-linejoin="round"/>
<line x1="228.3" y1="665.6" x2="228.3" y2="673.7" stroke="#ea2c6c" stroke-width="1.5" />
<line x1="224.9" y1="665.6" x2="231.7" y2="665.6" stroke="#ea2c6c" stroke-width="1.5" />
<line x1="224.9" y1="673.7" x2="231.7" y2="673.7" stroke="#ea2c6c" stroke-width="1.5" />
<circle cx="228.3" cy="669.5" r="2.3" fill="#ea2c6c"/>
<line x1="225.5" y1="695.8" x2="225.5" y2="702" stroke="#2c2cee" stroke-width="1.5" />
<line x1="222.1" y1="695.8" x2="228.9" y2="695.8" stroke="#2c2cee" stroke-width="1.5" />
<line x1="222.1" y1="702" x2="228.9" y2="702" stroke="#2c2cee" stroke-width="1.5" />
<circle cx="225.5" cy="698.9" r="2.3" fill="#2c2cee"/>
<polygon points="221.95,614.85 222.57,616.34 224.18,616.47 222.96,617.53 223.33,619.1 221.95,618.26 220.57,619.1 220.94,617.53 219.72,616.47 221.33,616.34" fill="#1a1a1a" stroke="#1a1a1a" stroke-width="0.5" stroke-linejoin="round"/>
<polygon points="227.6,614.85 228.22,616.34 229.83,616.47 228.61,617.53 228.98,619.1 227.6,618.26 226.22,619.1 226.59,617.53 225.37,616.47 226.98,616.34" fill="#1a1a1a" stroke="#1a1a1a" stroke-width="0.5" stroke-linejoin="round"/>
<polygon points="233.25,614.85 233.87,616.34 235.48,616.47 234.26,617.53 234.63,619.1 233.25,618.26 231.87,619.1 232.24,617.53 231.02,616.47 232.63,616.34" fill="#1a1a1a" stroke="#1a1a1a" stroke-width="0.5" stroke-linejoin="round"/>
<line x1="246.3" y1="668.8" x2="246.3" y2="676" stroke="#ea2c6c" stroke-width="1.5" />
<line x1="242.9" y1="668.8" x2="249.7" y2="668.8" stroke="#ea2c6c" stroke-width="1.5" />
<line x1="242.9" y1="676" x2="249.7" y2="676" stroke="#ea2c6c" stroke-width="1.5" />
<circle cx="246.3" cy="672.4" r="2.3" fill="#ea2c6c"/>
<line x1="242.5" y1="703.5" x2="242.5" y2="709.7" stroke="#2c2cee" stroke-width="1.5" />
<line x1="239.1" y1="703.5" x2="245.9" y2="703.5" stroke="#2c2cee" stroke-width="1.5" />
<line x1="239.1" y1="709.7" x2="245.9" y2="709.7" stroke="#2c2cee" stroke-width="1.5" />
<circle cx="242.5" cy="706.6" r="2.3" fill="#2c2cee"/>
<polygon points="241.05,623.85 241.67,625.34 243.28,625.47 242.06,626.53 242.43,628.1 241.05,627.26 239.67,628.1 240.04,626.53 238.82,625.47 240.43,625.34" fill="#1a1a1a" stroke="#1a1a1a" stroke-width="0.5" stroke-linejoin="round"/>
<polygon points="246.7,623.85 247.32,625.34 248.93,625.47 247.71,626.53 248.08,628.1 246.7,627.26 245.32,628.1 245.69,626.53 244.47,625.47 246.08,625.34" fill="#1a1a1a" stroke="#1a1a1a" stroke-width="0.5" stroke-linejoin="round"/>
<polygon points="252.35,623.85 252.97,625.34 254.58,625.47 253.36,626.53 253.73,628.1 252.35,627.26 250.97,628.1 251.34,626.53 250.12,625.47 251.73,625.34" fill="#1a1a1a" stroke="#1a1a1a" stroke-width="0.5" stroke-linejoin="round"/>
<line x1="286" y1="667.6" x2="286" y2="676.5" stroke="#ea2c6c" stroke-width="1.5" />
<line x1="282.6" y1="667.6" x2="289.4" y2="667.6" stroke="#ea2c6c" stroke-width="1.5" />
<line x1="282.6" y1="676.5" x2="289.4" y2="676.5" stroke="#ea2c6c" stroke-width="1.5" />
<circle cx="286" cy="672" r="2.3" fill="#ea2c6c"/>
<line x1="283.6" y1="709.5" x2="283.6" y2="715.5" stroke="#2c2cee" stroke-width="1.5" />
<line x1="280.2" y1="709.5" x2="287" y2="709.5" stroke="#2c2cee" stroke-width="1.5" />
<line x1="280.2" y1="715.5" x2="287" y2="715.5" stroke="#2c2cee" stroke-width="1.5" />
<circle cx="283.6" cy="712.5" r="2.3" fill="#2c2cee"/>
<polygon points="280.65,637.55 281.27,639.04 282.88,639.17 281.66,640.23 282.03,641.8 280.65,640.96 279.27,641.8 279.64,640.23 278.42,639.17 280.03,639.04" fill="#1a1a1a" stroke="#1a1a1a" stroke-width="0.5" stroke-linejoin="round"/>
<polygon points="286.3,637.55 286.92,639.04 288.53,639.17 287.31,640.23 287.68,641.8 286.3,640.96 284.92,641.8 285.29,640.23 284.07,639.17 285.68,639.04" fill="#1a1a1a" stroke="#1a1a1a" stroke-width="0.5" stroke-linejoin="round"/>
<polygon points="291.95,637.55 292.57,639.04 294.18,639.17 292.96,640.23 293.33,641.8 291.95,640.96 290.57,641.8 290.94,640.23 289.72,639.17 291.33,639.04" fill="#1a1a1a" stroke="#1a1a1a" stroke-width="0.5" stroke-linejoin="round"/>
<text x="336.2" y="542.8" font-size="21.5" fill="#111" text-anchor="start" >F</text>
<line x1="416.1" y1="571.2" x2="416.1" y2="734.5" stroke="#1a1a1a" stroke-width="1.3" />
<line x1="407.5" y1="593.6" x2="416.1" y2="593.6" stroke="#1a1a1a" stroke-width="1.3" />
<text x="403.6" y="599.6" font-size="16.5" fill="#1a1a1a" text-anchor="end" >1.5</text>
<line x1="407.5" y1="650.1" x2="416.1" y2="650.1" stroke="#1a1a1a" stroke-width="1.3" />
<text x="403.6" y="656.1" font-size="16.5" fill="#1a1a1a" text-anchor="end" >1.0</text>
<line x1="407.5" y1="706.2" x2="416.1" y2="706.2" stroke="#1a1a1a" stroke-width="1.3" />
<text x="403.6" y="712.2" font-size="16.5" fill="#1a1a1a" text-anchor="end" >0.5</text>
<text x="0" y="0" font-size="16.8" fill="#1a1a1a" text-anchor="middle" transform="translate(365.2,640.7) rotate(-90)">FWHM (norm.)</text>
<line x1="423.6" y1="740" x2="441.2" y2="740" stroke="#1a1a1a" stroke-width="1.3" />
<line x1="450.5" y1="740" x2="672.4" y2="740" stroke="#1a1a1a" stroke-width="1.3" />
<line x1="423.6" y1="739.5" x2="423.6" y2="747" stroke="#1a1a1a" stroke-width="1.3" />
<line x1="437.9" y1="744.1" x2="446.4" y2="737" stroke="#1a1a1a" stroke-width="1.3" />
<line x1="442.9" y1="745" x2="451.4" y2="737.7" stroke="#1a1a1a" stroke-width="1.3" />
<line x1="467.14" y1="740" x2="467.14" y2="744.1" stroke="#1a1a1a" stroke-width="1.15" />
<line x1="472.05" y1="740" x2="472.05" y2="744.1" stroke="#1a1a1a" stroke-width="1.15" />
<line x1="476.2" y1="740" x2="476.2" y2="744.1" stroke="#1a1a1a" stroke-width="1.15" />
<line x1="479.79" y1="740" x2="479.79" y2="744.1" stroke="#1a1a1a" stroke-width="1.15" />
<line x1="482.96" y1="740" x2="482.96" y2="744.1" stroke="#1a1a1a" stroke-width="1.15" />
<line x1="504.46" y1="740" x2="504.46" y2="744.1" stroke="#1a1a1a" stroke-width="1.15" />
<line x1="515.38" y1="740" x2="515.38" y2="744.1" stroke="#1a1a1a" stroke-width="1.15" />
<line x1="523.13" y1="740" x2="523.13" y2="744.1" stroke="#1a1a1a" stroke-width="1.15" />
<line x1="529.14" y1="740" x2="529.14" y2="744.1" stroke="#1a1a1a" stroke-width="1.15" />
<line x1="534.05" y1="740" x2="534.05" y2="744.1" stroke="#1a1a1a" stroke-width="1.15" />
<line x1="538.2" y1="740" x2="538.2" y2="744.1" stroke="#1a1a1a" stroke-width="1.15" />
<line x1="541.79" y1="740" x2="541.79" y2="744.1" stroke="#1a1a1a" stroke-width="1.15" />
<line x1="544.96" y1="740" x2="544.96" y2="744.1" stroke="#1a1a1a" stroke-width="1.15" />
<line x1="566.46" y1="740" x2="566.46" y2="744.1" stroke="#1a1a1a" stroke-width="1.15" />
<line x1="577.38" y1="740" x2="577.38" y2="744.1" stroke="#1a1a1a" stroke-width="1.15" />
<line x1="585.13" y1="740" x2="585.13" y2="744.1" stroke="#1a1a1a" stroke-width="1.15" />
<line x1="591.14" y1="740" x2="591.14" y2="744.1" stroke="#1a1a1a" stroke-width="1.15" />
<line x1="596.05" y1="740" x2="596.05" y2="744.1" stroke="#1a1a1a" stroke-width="1.15" />
<line x1="600.2" y1="740" x2="600.2" y2="744.1" stroke="#1a1a1a" stroke-width="1.15" />
<line x1="603.79" y1="740" x2="603.79" y2="744.1" stroke="#1a1a1a" stroke-width="1.15" />
<line x1="606.96" y1="740" x2="606.96" y2="744.1" stroke="#1a1a1a" stroke-width="1.15" />
<line x1="628.46" y1="740" x2="628.46" y2="744.1" stroke="#1a1a1a" stroke-width="1.15" />
<line x1="639.38" y1="740" x2="639.38" y2="744.1" stroke="#1a1a1a" stroke-width="1.15" />
<line x1="647.13" y1="740" x2="647.13" y2="744.1" stroke="#1a1a1a" stroke-width="1.15" />
<line x1="653.14" y1="740" x2="653.14" y2="744.1" stroke="#1a1a1a" stroke-width="1.15" />
<line x1="658.05" y1="740" x2="658.05" y2="744.1" stroke="#1a1a1a" stroke-width="1.15" />
<line x1="662.2" y1="740" x2="662.2" y2="744.1" stroke="#1a1a1a" stroke-width="1.15" />
<line x1="665.79" y1="740" x2="665.79" y2="744.1" stroke="#1a1a1a" stroke-width="1.15" />
<line x1="668.96" y1="740" x2="668.96" y2="744.1" stroke="#1a1a1a" stroke-width="1.15" />
<line x1="485.8" y1="740" x2="485.8" y2="748" stroke="#1a1a1a" stroke-width="1.15" />
<line x1="547.8" y1="740" x2="547.8" y2="748" stroke="#1a1a1a" stroke-width="1.15" />
<line x1="609.8" y1="740" x2="609.8" y2="748" stroke="#1a1a1a" stroke-width="1.15" />
<line x1="671.8" y1="740" x2="671.8" y2="748" stroke="#1a1a1a" stroke-width="1.15" />
<text x="424.4" y="777.6" font-size="16.5" fill="#1a1a1a" text-anchor="middle" >0</text>
<text x="482.5" y="777.6" font-size="16.5" fill="#1a1a1a" text-anchor="middle" >10</text>
<text x="492.1" y="766.4" font-size="12" fill="#1a1a1a" text-anchor="start" >2</text>
<text x="544.5" y="777.6" font-size="16.5" fill="#1a1a1a" text-anchor="middle" >10</text>
<text x="554.1" y="766.4" font-size="12" fill="#1a1a1a" text-anchor="start" >3</text>
<text x="606.5" y="777.6" font-size="16.5" fill="#1a1a1a" text-anchor="middle" >10</text>
<text x="616.1" y="766.4" font-size="12" fill="#1a1a1a" text-anchor="start" >4</text>
<text x="668.5" y="777.6" font-size="16.5" fill="#1a1a1a" text-anchor="middle" >10</text>
<text x="678.1" y="766.4" font-size="12" fill="#1a1a1a" text-anchor="start" >5</text>
<text x="462.6" y="800.5" font-size="16.75" fill="#1a1a1a" text-anchor="start" >Background (R*/cone/s)</text>
<line x1="486.7" y1="562.8" x2="588.1" y2="562.8" stroke="#c3d2f8" stroke-width="1.3" />
<polygon points="533.27,556.45 533.9,557.94 535.51,558.07 534.28,559.13 534.66,560.7 533.27,559.86 531.89,560.7 532.27,559.13 531.04,558.07 532.65,557.94" fill="#1a1a1a" stroke="#1a1a1a" stroke-width="0.5" stroke-linejoin="round"/>
<polygon points="538.92,556.45 539.55,557.94 541.16,558.07 539.93,559.13 540.31,560.7 538.92,559.86 537.54,560.7 537.92,559.13 536.69,558.07 538.3,557.94" fill="#1a1a1a" stroke="#1a1a1a" stroke-width="0.5" stroke-linejoin="round"/>
<line x1="530.3" y1="582.9" x2="590.7" y2="582.9" stroke="#c3d2f8" stroke-width="1.3" />
<polygon points="557.97,577.05 558.6,578.54 560.21,578.67 558.98,579.73 559.36,581.3 557.97,580.46 556.59,581.3 556.97,579.73 555.74,578.67 557.35,578.54" fill="#1a1a1a" stroke="#1a1a1a" stroke-width="0.5" stroke-linejoin="round"/>
<polygon points="563.62,577.05 564.25,578.54 565.86,578.67 564.63,579.73 565.01,581.3 563.62,580.46 562.24,581.3 562.62,579.73 561.39,578.67 563,578.54" fill="#1a1a1a" stroke="#1a1a1a" stroke-width="0.5" stroke-linejoin="round"/>
<line x1="547.1" y1="601.9" x2="590.7" y2="601.9" stroke="#c3d2f8" stroke-width="1.3" />
<polygon points="563.85,595.35 564.47,596.84 566.08,596.97 564.86,598.03 565.23,599.6 563.85,598.76 562.47,599.6 562.84,598.03 561.62,596.97 563.23,596.84" fill="#1a1a1a" stroke="#1a1a1a" stroke-width="0.5" stroke-linejoin="round"/>
<polygon points="569.5,595.35 570.12,596.84 571.73,596.97 570.51,598.03 570.88,599.6 569.5,598.76 568.12,599.6 568.49,598.03 567.27,596.97 568.88,596.84" fill="#1a1a1a" stroke="#1a1a1a" stroke-width="0.5" stroke-linejoin="round"/>
<polygon points="575.15,595.35 575.77,596.84 577.38,596.97 576.16,598.03 576.53,599.6 575.15,598.76 573.77,599.6 574.14,598.03 572.92,596.97 574.53,596.84" fill="#1a1a1a" stroke="#1a1a1a" stroke-width="0.5" stroke-linejoin="round"/>
<line x1="566.2" y1="614.5" x2="590.7" y2="614.5" stroke="#c3d2f8" stroke-width="1.3" />
<polygon points="573.85,608.55 574.47,610.04 576.08,610.17 574.86,611.23 575.23,612.8 573.85,611.96 572.47,612.8 572.84,611.23 571.62,610.17 573.23,610.04" fill="#1a1a1a" stroke="#1a1a1a" stroke-width="0.5" stroke-linejoin="round"/>
<polygon points="579.5,608.55 580.12,610.04 581.73,610.17 580.51,611.23 580.88,612.8 579.5,611.96 578.12,612.8 578.49,611.23 577.27,610.17 578.88,610.04" fill="#1a1a1a" stroke="#1a1a1a" stroke-width="0.5" stroke-linejoin="round"/>
<polygon points="585.15,608.55 585.77,610.04 587.38,610.17 586.16,611.23 586.53,612.8 585.15,611.96 583.77,612.8 584.14,611.23 582.92,610.17 584.53,610.04" fill="#1a1a1a" stroke="#1a1a1a" stroke-width="0.5" stroke-linejoin="round"/>
<line x1="592.2" y1="628.2" x2="609.1" y2="628.2" stroke="#c3d2f8" stroke-width="1.3" />
<polygon points="597.07,621.45 597.7,622.94 599.31,623.07 598.08,624.13 598.46,625.7 597.07,624.86 595.69,625.7 596.07,624.13 594.84,623.07 596.45,622.94" fill="#1a1a1a" stroke="#1a1a1a" stroke-width="0.5" stroke-linejoin="round"/>
<polygon points="602.72,621.45 603.35,622.94 604.96,623.07 603.73,624.13 604.11,625.7 602.72,624.86 601.34,625.7 601.72,624.13 600.49,623.07 602.1,622.94" fill="#1a1a1a" stroke="#1a1a1a" stroke-width="0.5" stroke-linejoin="round"/>
<line x1="594.1" y1="638.5" x2="655" y2="638.5" stroke="#c3d2f8" stroke-width="1.3" />
<polygon points="619.65,631.95 620.27,633.44 621.88,633.57 620.66,634.63 621.03,636.2 619.65,635.36 618.27,636.2 618.64,634.63 617.42,633.57 619.03,633.44" fill="#1a1a1a" stroke="#1a1a1a" stroke-width="0.5" stroke-linejoin="round"/>
<polygon points="625.3,631.95 625.92,633.44 627.53,633.57 626.31,634.63 626.68,636.2 625.3,635.36 623.92,636.2 624.29,634.63 623.07,633.57 624.68,633.44" fill="#1a1a1a" stroke="#1a1a1a" stroke-width="0.5" stroke-linejoin="round"/>
<polygon points="630.95,631.95 631.57,633.44 633.18,633.57 631.96,634.63 632.33,636.2 630.95,635.36 629.57,636.2 629.94,634.63 628.72,633.57 630.33,633.44" fill="#1a1a1a" stroke="#1a1a1a" stroke-width="0.5" stroke-linejoin="round"/>
<line x1="550.9" y1="671" x2="595.9" y2="671" stroke="#f5bcf2" stroke-width="1.3" />
<polygon points="568.25,674.55 568.87,676.04 570.48,676.17 569.26,677.23 569.63,678.8 568.25,677.96 566.87,678.8 567.24,677.23 566.02,676.17 567.63,676.04" fill="#1a1a1a" stroke="#1a1a1a" stroke-width="0.5" stroke-linejoin="round"/>
<polygon points="573.9,674.55 574.52,676.04 576.13,676.17 574.91,677.23 575.28,678.8 573.9,677.96 572.52,678.8 572.89,677.23 571.67,676.17 573.28,676.04" fill="#1a1a1a" stroke="#1a1a1a" stroke-width="0.5" stroke-linejoin="round"/>
<polygon points="579.55,674.55 580.17,676.04 581.78,676.17 580.56,677.23 580.93,678.8 579.55,677.96 578.17,678.8 578.54,677.23 577.32,676.17 578.93,676.04" fill="#1a1a1a" stroke="#1a1a1a" stroke-width="0.5" stroke-linejoin="round"/>
<line x1="533.8" y1="688.5" x2="595.9" y2="688.5" stroke="#f5bcf2" stroke-width="1.3" />
<polygon points="562.75,691.95 563.37,693.44 564.98,693.57 563.76,694.63 564.13,696.2 562.75,695.36 561.37,696.2 561.74,694.63 560.52,693.57 562.13,693.44" fill="#1a1a1a" stroke="#1a1a1a" stroke-width="0.5" stroke-linejoin="round"/>
<polygon points="568.4,691.95 569.02,693.44 570.63,693.57 569.41,694.63 569.78,696.2 568.4,695.36 567.02,696.2 567.39,694.63 566.17,693.57 567.78,693.44" fill="#1a1a1a" stroke="#1a1a1a" stroke-width="0.5" stroke-linejoin="round"/>
<polygon points="574.05,691.95 574.67,693.44 576.28,693.57 575.06,694.63 575.43,696.2 574.05,695.36 572.67,696.2 573.04,694.63 571.82,693.57 573.43,693.44" fill="#1a1a1a" stroke="#1a1a1a" stroke-width="0.5" stroke-linejoin="round"/>
<line x1="485.8" y1="592.4" x2="485.8" y2="616" stroke="#2c2cee" stroke-width="1.5" />
<line x1="482.3" y1="592.4" x2="489.3" y2="592.4" stroke="#2c2cee" stroke-width="1.5" />
<line x1="482.3" y1="616" x2="489.3" y2="616" stroke="#2c2cee" stroke-width="1.5" />
<circle cx="485.8" cy="604.3" r="3.6" fill="#2c2cee"/>
<line x1="489.6" y1="634.4" x2="489.6" y2="646.7" stroke="#ea2c6c" stroke-width="1.5" />
<line x1="486.1" y1="634.4" x2="493.1" y2="634.4" stroke="#ea2c6c" stroke-width="1.5" />
<line x1="486.1" y1="646.7" x2="493.1" y2="646.7" stroke="#ea2c6c" stroke-width="1.5" />
<circle cx="489.6" cy="640.6" r="3.6" fill="#ea2c6c"/>
<line x1="529.4" y1="595.9" x2="529.4" y2="616.2" stroke="#2c2cee" stroke-width="1.5" />
<line x1="525.9" y1="595.9" x2="532.9" y2="595.9" stroke="#2c2cee" stroke-width="1.5" />
<line x1="525.9" y1="616.2" x2="532.9" y2="616.2" stroke="#2c2cee" stroke-width="1.5" />
<circle cx="529.4" cy="606.1" r="3.6" fill="#2c2cee"/>
<line x1="532.9" y1="627.1" x2="532.9" y2="636.2" stroke="#ea2c6c" stroke-width="1.5" />
<line x1="529.4" y1="627.1" x2="536.4" y2="627.1" stroke="#ea2c6c" stroke-width="1.5" />
<line x1="529.4" y1="636.2" x2="536.4" y2="636.2" stroke="#ea2c6c" stroke-width="1.5" />
<circle cx="532.9" cy="631.8" r="3.6" fill="#ea2c6c"/>
<line x1="548" y1="621.5" x2="548" y2="630.6" stroke="#2c2cee" stroke-width="1.5" />
<line x1="544.5" y1="621.5" x2="551.5" y2="621.5" stroke="#2c2cee" stroke-width="1.5" />
<line x1="544.5" y1="630.6" x2="551.5" y2="630.6" stroke="#2c2cee" stroke-width="1.5" />
<circle cx="548" cy="626.2" r="3.6" fill="#2c2cee"/>
<circle cx="551.5" cy="638.5" r="3.6" fill="#ea2c6c"/>
<line x1="566.4" y1="621.5" x2="566.4" y2="633.6" stroke="#2c2cee" stroke-width="1.5" />
<line x1="562.9" y1="621.5" x2="569.9" y2="621.5" stroke="#2c2cee" stroke-width="1.5" />
<line x1="562.9" y1="633.6" x2="569.9" y2="633.6" stroke="#2c2cee" stroke-width="1.5" />
<circle cx="566.4" cy="627.4" r="3.6" fill="#2c2cee"/>
<circle cx="570.2" cy="645.8" r="3.6" fill="#ea2c6c"/>
<circle cx="590.7" cy="650.1" r="3.6" fill="#2c2cee"/>
<circle cx="594.8" cy="650.1" r="3.6" fill="#ea2c6c"/>
<circle cx="609.9" cy="662.8" r="3.6" fill="#2c2cee"/>
<circle cx="613.5" cy="653.8" r="3.6" fill="#ea2c6c"/>
<circle cx="653.2" cy="672.5" r="3.6" fill="#2c2cee"/>
<line x1="655.4" y1="651.2" x2="655.4" y2="660.4" stroke="#ea2c6c" stroke-width="1.5" />
<line x1="651.9" y1="651.2" x2="658.9" y2="651.2" stroke="#ea2c6c" stroke-width="1.5" />
<line x1="651.9" y1="660.4" x2="658.9" y2="660.4" stroke="#ea2c6c" stroke-width="1.5" />
<circle cx="655.4" cy="655.7" r="3.6" fill="#ea2c6c"/>
</svg>
</body></html>
